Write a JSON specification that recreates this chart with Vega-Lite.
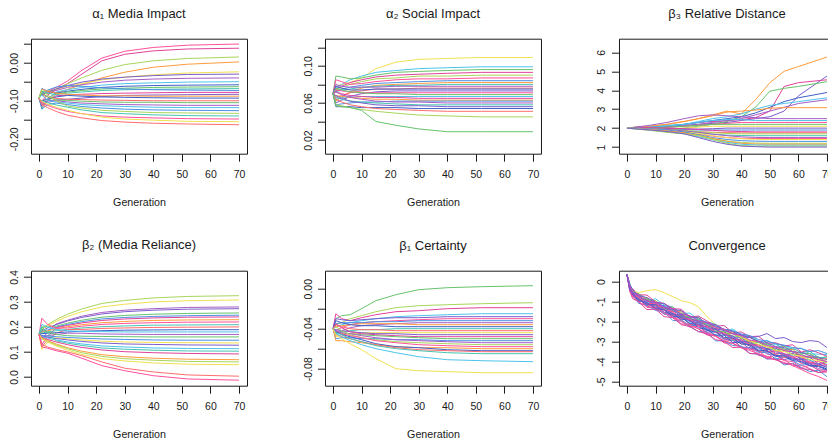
{
"$schema": "https://vega.github.io/schema/vega-lite/v6.json",
"padding": {"left": 8, "top": 7.7, "right": 0, "bottom": 0},
"config": {
"font": "Liberation Sans",
"view": {"stroke": "#1a1a1a", "strokeWidth": 1},
"axis": {"domain": false, "grid": false, "tickColor": "#1a1a1a", "tickSize": 7.5, "tickWidth": 1, "labelFont": "Liberation Sans", "labelFontSize": 10.5, "labelColor": "#1a1a1a", "titleFont": "Liberation Sans", "titleFontSize": 10.7, "titleFontWeight": "normal", "titleColor": "#1a1a1a", "labelOverlap": false, "labelFlush": false},
"axisX": {"labelPadding": 8.5, "titlePadding": 17.5},
"axisY": {"labelAngle": -90, "labelAlign": "center", "labelBaseline": "bottom", "labelPadding": 4.5},
"title": {"font": "Liberation Sans", "fontSize": 13, "fontWeight": "normal", "color": "#1a1a1a", "anchor": "middle", "frame": "group", "baseline": "alphabetic", "offset": 17.5}
},
"datasets": {
"a1": [
{"s":1,"g":0,"v":-0.093},{"s":1,"g":1,"v":-0.085},{"s":1,"g":3,"v":-0.075},{"s":1,"g":6,"v":-0.065},{"s":1,"g":10,"v":-0.048},{"s":1,"g":15,"v":-0.02},{"s":1,"g":22,"v":0.012},{"s":1,"g":30,"v":0.03},{"s":1,"g":40,"v":0.04},{"s":1,"g":52,"v":0.046},{"s":1,"g":70,"v":0.049},
{"s":2,"g":0,"v":-0.093},{"s":2,"g":1,"v":-0.1},{"s":2,"g":3,"v":-0.085},{"s":2,"g":6,"v":-0.07},{"s":2,"g":10,"v":-0.055},{"s":2,"g":15,"v":-0.03},{"s":2,"g":22,"v":0.005},{"s":2,"g":30,"v":0.022},{"s":2,"g":40,"v":0.031},{"s":2,"g":52,"v":0.036},{"s":2,"g":70,"v":0.038},
{"s":3,"g":0,"v":-0.093},{"s":3,"g":1,"v":-0.085},{"s":3,"g":3,"v":-0.08},{"s":3,"g":6,"v":-0.07},{"s":3,"g":10,"v":-0.055},{"s":3,"g":15,"v":-0.04},{"s":3,"g":22,"v":-0.02},{"s":3,"g":30,"v":-0.005},{"s":3,"g":40,"v":0.005},{"s":3,"g":52,"v":0.011},{"s":3,"g":70,"v":0.015},
{"s":4,"g":0,"v":-0.093},{"s":4,"g":1,"v":-0.1},{"s":4,"g":3,"v":-0.095},{"s":4,"g":6,"v":-0.08},{"s":4,"g":10,"v":-0.07},{"s":4,"g":15,"v":-0.058},{"s":4,"g":22,"v":-0.04},{"s":4,"g":30,"v":-0.025},{"s":4,"g":40,"v":-0.012},{"s":4,"g":52,"v":-0.004},{"s":4,"g":70,"v":0.002},
{"s":5,"g":0,"v":-0.093},{"s":5,"g":1,"v":-0.08},{"s":5,"g":3,"v":-0.075},{"s":5,"g":6,"v":-0.07},{"s":5,"g":10,"v":-0.062},{"s":5,"g":15,"v":-0.055},{"s":5,"g":22,"v":-0.045},{"s":5,"g":30,"v":-0.038},{"s":5,"g":40,"v":-0.032},{"s":5,"g":52,"v":-0.027},{"s":5,"g":70,"v":-0.024},
{"s":6,"g":0,"v":-0.093},{"s":6,"g":1,"v":-0.084},{"s":6,"g":3,"v":-0.077},{"s":6,"g":6,"v":-0.069},{"s":6,"g":10,"v":-0.06},{"s":6,"g":15,"v":-0.051},{"s":6,"g":22,"v":-0.043},{"s":6,"g":30,"v":-0.038},{"s":6,"g":40,"v":-0.034},{"s":6,"g":52,"v":-0.031},{"s":6,"g":70,"v":-0.03},
{"s":7,"g":0,"v":-0.093},{"s":7,"g":1,"v":-0.075},{"s":7,"g":3,"v":-0.08},{"s":7,"g":6,"v":-0.073},{"s":7,"g":10,"v":-0.065},{"s":7,"g":15,"v":-0.058},{"s":7,"g":22,"v":-0.051},{"s":7,"g":30,"v":-0.046},{"s":7,"g":40,"v":-0.043},{"s":7,"g":52,"v":-0.041},{"s":7,"g":70,"v":-0.04},
{"s":8,"g":0,"v":-0.093},{"s":8,"g":1,"v":-0.11},{"s":8,"g":3,"v":-0.095},{"s":8,"g":6,"v":-0.077},{"s":8,"g":10,"v":-0.071},{"s":8,"g":15,"v":-0.065},{"s":8,"g":22,"v":-0.059},{"s":8,"g":30,"v":-0.055},{"s":8,"g":40,"v":-0.053},{"s":8,"g":52,"v":-0.051},{"s":8,"g":70,"v":-0.05},
{"s":9,"g":0,"v":-0.093},{"s":9,"g":1,"v":-0.068},{"s":9,"g":3,"v":-0.075},{"s":9,"g":6,"v":-0.08},{"s":9,"g":10,"v":-0.075},{"s":9,"g":15,"v":-0.07},{"s":9,"g":22,"v":-0.065},{"s":9,"g":30,"v":-0.062},{"s":9,"g":40,"v":-0.06},{"s":9,"g":52,"v":-0.059},{"s":9,"g":70,"v":-0.058},
{"s":10,"g":0,"v":-0.093},{"s":10,"g":1,"v":-0.12},{"s":10,"g":3,"v":-0.1},{"s":10,"g":6,"v":-0.082},{"s":10,"g":10,"v":-0.077},{"s":10,"g":15,"v":-0.073},{"s":10,"g":22,"v":-0.069},{"s":10,"g":30,"v":-0.067},{"s":10,"g":40,"v":-0.065},{"s":10,"g":52,"v":-0.064},{"s":10,"g":70,"v":-0.063},
{"s":11,"g":0,"v":-0.093},{"s":11,"g":1,"v":-0.075},{"s":11,"g":3,"v":-0.08},{"s":11,"g":6,"v":-0.084},{"s":11,"g":10,"v":-0.08},{"s":11,"g":15,"v":-0.077},{"s":11,"g":22,"v":-0.073},{"s":11,"g":30,"v":-0.071},{"s":11,"g":40,"v":-0.07},{"s":11,"g":52,"v":-0.069},{"s":11,"g":70,"v":-0.068},
{"s":12,"g":0,"v":-0.093},{"s":12,"g":1,"v":-0.08},{"s":12,"g":3,"v":-0.072},{"s":12,"g":6,"v":-0.064},{"s":12,"g":10,"v":-0.06},{"s":12,"g":15,"v":-0.062},{"s":12,"g":22,"v":-0.066},{"s":12,"g":30,"v":-0.069},{"s":12,"g":40,"v":-0.071},{"s":12,"g":52,"v":-0.072},{"s":12,"g":70,"v":-0.073},
{"s":13,"g":0,"v":-0.093},{"s":13,"g":1,"v":-0.115},{"s":13,"g":3,"v":-0.1},{"s":13,"g":6,"v":-0.087},{"s":13,"g":10,"v":-0.085},{"s":13,"g":15,"v":-0.083},{"s":13,"g":22,"v":-0.081},{"s":13,"g":30,"v":-0.08},{"s":13,"g":40,"v":-0.079},{"s":13,"g":52,"v":-0.078},{"s":13,"g":70,"v":-0.078},
{"s":14,"g":0,"v":-0.093},{"s":14,"g":1,"v":-0.105},{"s":14,"g":3,"v":-0.1},{"s":14,"g":6,"v":-0.098},{"s":14,"g":10,"v":-0.096},{"s":14,"g":15,"v":-0.093},{"s":14,"g":22,"v":-0.089},{"s":14,"g":30,"v":-0.086},{"s":14,"g":40,"v":-0.085},{"s":14,"g":52,"v":-0.084},{"s":14,"g":70,"v":-0.083},
{"s":15,"g":0,"v":-0.093},{"s":15,"g":1,"v":-0.07},{"s":15,"g":3,"v":-0.075},{"s":15,"g":6,"v":-0.08},{"s":15,"g":10,"v":-0.083},{"s":15,"g":15,"v":-0.085},{"s":15,"g":22,"v":-0.087},{"s":15,"g":30,"v":-0.087},{"s":15,"g":40,"v":-0.088},{"s":15,"g":52,"v":-0.088},{"s":15,"g":70,"v":-0.088},
{"s":16,"g":0,"v":-0.093},{"s":16,"g":1,"v":-0.1},{"s":16,"g":3,"v":-0.096},{"s":16,"g":6,"v":-0.09},{"s":16,"g":10,"v":-0.086},{"s":16,"g":15,"v":-0.088},{"s":16,"g":22,"v":-0.09},{"s":16,"g":30,"v":-0.091},{"s":16,"g":40,"v":-0.092},{"s":16,"g":52,"v":-0.093},{"s":16,"g":70,"v":-0.093},
{"s":17,"g":0,"v":-0.093},{"s":17,"g":1,"v":-0.085},{"s":17,"g":3,"v":-0.09},{"s":17,"g":6,"v":-0.094},{"s":17,"g":10,"v":-0.096},{"s":17,"g":15,"v":-0.097},{"s":17,"g":22,"v":-0.098},{"s":17,"g":30,"v":-0.099},{"s":17,"g":40,"v":-0.1},{"s":17,"g":52,"v":-0.1},{"s":17,"g":70,"v":-0.1},
{"s":18,"g":0,"v":-0.093},{"s":18,"g":1,"v":-0.08},{"s":18,"g":3,"v":-0.09},{"s":18,"g":6,"v":-0.098},{"s":18,"g":10,"v":-0.099},{"s":18,"g":15,"v":-0.101},{"s":18,"g":22,"v":-0.103},{"s":18,"g":30,"v":-0.104},{"s":18,"g":40,"v":-0.104},{"s":18,"g":52,"v":-0.105},{"s":18,"g":70,"v":-0.105},
{"s":19,"g":0,"v":-0.093},{"s":19,"g":1,"v":-0.11},{"s":19,"g":3,"v":-0.104},{"s":19,"g":6,"v":-0.1},{"s":19,"g":10,"v":-0.103},{"s":19,"g":15,"v":-0.106},{"s":19,"g":22,"v":-0.108},{"s":19,"g":30,"v":-0.11},{"s":19,"g":40,"v":-0.111},{"s":19,"g":52,"v":-0.112},{"s":19,"g":70,"v":-0.112},
{"s":20,"g":0,"v":-0.093},{"s":20,"g":1,"v":-0.085},{"s":20,"g":3,"v":-0.099},{"s":20,"g":6,"v":-0.103},{"s":20,"g":10,"v":-0.106},{"s":20,"g":15,"v":-0.11},{"s":20,"g":22,"v":-0.113},{"s":20,"g":30,"v":-0.115},{"s":20,"g":40,"v":-0.117},{"s":20,"g":52,"v":-0.118},{"s":20,"g":70,"v":-0.118},
{"s":21,"g":0,"v":-0.093},{"s":21,"g":1,"v":-0.122},{"s":21,"g":3,"v":-0.11},{"s":21,"g":6,"v":-0.106},{"s":21,"g":10,"v":-0.11},{"s":21,"g":15,"v":-0.115},{"s":21,"g":22,"v":-0.119},{"s":21,"g":30,"v":-0.122},{"s":21,"g":40,"v":-0.124},{"s":21,"g":52,"v":-0.125},{"s":21,"g":70,"v":-0.126},
{"s":22,"g":0,"v":-0.093},{"s":22,"g":1,"v":-0.07},{"s":22,"g":3,"v":-0.085},{"s":22,"g":6,"v":-0.1},{"s":22,"g":10,"v":-0.114},{"s":22,"g":15,"v":-0.119},{"s":22,"g":22,"v":-0.125},{"s":22,"g":30,"v":-0.128},{"s":22,"g":40,"v":-0.131},{"s":22,"g":52,"v":-0.132},{"s":22,"g":70,"v":-0.133},
{"s":23,"g":0,"v":-0.093},{"s":23,"g":1,"v":-0.1},{"s":23,"g":3,"v":-0.105},{"s":23,"g":6,"v":-0.111},{"s":23,"g":10,"v":-0.117},{"s":23,"g":15,"v":-0.124},{"s":23,"g":22,"v":-0.131},{"s":23,"g":30,"v":-0.134},{"s":23,"g":40,"v":-0.137},{"s":23,"g":52,"v":-0.139},{"s":23,"g":70,"v":-0.14},
{"s":24,"g":0,"v":-0.093},{"s":24,"g":1,"v":-0.105},{"s":24,"g":3,"v":-0.112},{"s":24,"g":6,"v":-0.12},{"s":24,"g":10,"v":-0.128},{"s":24,"g":15,"v":-0.134},{"s":24,"g":22,"v":-0.14},{"s":24,"g":30,"v":-0.143},{"s":24,"g":40,"v":-0.145},{"s":24,"g":52,"v":-0.147},{"s":24,"g":70,"v":-0.148},
{"s":25,"g":0,"v":-0.093},{"s":25,"g":1,"v":-0.102},{"s":25,"g":3,"v":-0.109},{"s":25,"g":6,"v":-0.117},{"s":25,"g":10,"v":-0.125},{"s":25,"g":15,"v":-0.134},{"s":25,"g":22,"v":-0.143},{"s":25,"g":30,"v":-0.148},{"s":25,"g":40,"v":-0.151},{"s":25,"g":52,"v":-0.154},{"s":25,"g":70,"v":-0.155},
{"s":26,"g":0,"v":-0.093},{"s":26,"g":1,"v":-0.11},{"s":26,"g":3,"v":-0.118},{"s":26,"g":6,"v":-0.128},{"s":26,"g":10,"v":-0.138},{"s":26,"g":15,"v":-0.145},{"s":26,"g":22,"v":-0.152},{"s":26,"g":30,"v":-0.156},{"s":26,"g":40,"v":-0.159},{"s":26,"g":52,"v":-0.161},{"s":26,"g":70,"v":-0.163}
],
"a2": [
{"s":1,"g":0,"v":0.07},{"s":1,"g":1,"v":0.078},{"s":1,"g":3,"v":0.08},{"s":1,"g":6,"v":0.082},{"s":1,"g":10,"v":0.087},{"s":1,"g":15,"v":0.097},{"s":1,"g":22,"v":0.104},{"s":1,"g":30,"v":0.107},{"s":1,"g":40,"v":0.108},{"s":1,"g":52,"v":0.109},{"s":1,"g":70,"v":0.109},
{"s":2,"g":0,"v":0.07},{"s":2,"g":1,"v":0.076},{"s":2,"g":3,"v":0.08},{"s":2,"g":6,"v":0.085},{"s":2,"g":10,"v":0.089},{"s":2,"g":15,"v":0.093},{"s":2,"g":22,"v":0.095},{"s":2,"g":30,"v":0.097},{"s":2,"g":40,"v":0.098},{"s":2,"g":52,"v":0.099},{"s":2,"g":70,"v":0.099},
{"s":3,"g":0,"v":0.07},{"s":3,"g":1,"v":0.089},{"s":3,"g":3,"v":0.088},{"s":3,"g":6,"v":0.086},{"s":3,"g":10,"v":0.087},{"s":3,"g":15,"v":0.09},{"s":3,"g":22,"v":0.093},{"s":3,"g":30,"v":0.094},{"s":3,"g":40,"v":0.095},{"s":3,"g":52,"v":0.096},{"s":3,"g":70,"v":0.096},
{"s":4,"g":0,"v":0.07},{"s":4,"g":1,"v":0.075},{"s":4,"g":3,"v":0.078},{"s":4,"g":6,"v":0.082},{"s":4,"g":10,"v":0.085},{"s":4,"g":15,"v":0.088},{"s":4,"g":22,"v":0.09},{"s":4,"g":30,"v":0.091},{"s":4,"g":40,"v":0.092},{"s":4,"g":52,"v":0.093},{"s":4,"g":70,"v":0.093},
{"s":5,"g":0,"v":0.07},{"s":5,"g":1,"v":0.074},{"s":5,"g":3,"v":0.077},{"s":5,"g":6,"v":0.08},{"s":5,"g":10,"v":0.083},{"s":5,"g":15,"v":0.086},{"s":5,"g":22,"v":0.087},{"s":5,"g":30,"v":0.089},{"s":5,"g":40,"v":0.089},{"s":5,"g":52,"v":0.09},{"s":5,"g":70,"v":0.09},
{"s":6,"g":0,"v":0.07},{"s":6,"g":1,"v":0.085},{"s":6,"g":3,"v":0.083},{"s":6,"g":6,"v":0.08},{"s":6,"g":10,"v":0.081},{"s":6,"g":15,"v":0.083},{"s":6,"g":22,"v":0.085},{"s":6,"g":30,"v":0.086},{"s":6,"g":40,"v":0.086},{"s":6,"g":52,"v":0.087},{"s":6,"g":70,"v":0.087},
{"s":7,"g":0,"v":0.07},{"s":7,"g":1,"v":0.073},{"s":7,"g":3,"v":0.075},{"s":7,"g":6,"v":0.077},{"s":7,"g":10,"v":0.079},{"s":7,"g":15,"v":0.081},{"s":7,"g":22,"v":0.082},{"s":7,"g":30,"v":0.083},{"s":7,"g":40,"v":0.084},{"s":7,"g":52,"v":0.084},{"s":7,"g":70,"v":0.084},
{"s":8,"g":0,"v":0.07},{"s":8,"g":1,"v":0.062},{"s":8,"g":3,"v":0.066},{"s":8,"g":6,"v":0.072},{"s":8,"g":10,"v":0.076},{"s":8,"g":15,"v":0.079},{"s":8,"g":22,"v":0.08},{"s":8,"g":30,"v":0.081},{"s":8,"g":40,"v":0.082},{"s":8,"g":52,"v":0.082},{"s":8,"g":70,"v":0.082},
{"s":9,"g":0,"v":0.07},{"s":9,"g":1,"v":0.072},{"s":9,"g":3,"v":0.074},{"s":9,"g":6,"v":0.075},{"s":9,"g":10,"v":0.077},{"s":9,"g":15,"v":0.078},{"s":9,"g":22,"v":0.079},{"s":9,"g":30,"v":0.079},{"s":9,"g":40,"v":0.08},{"s":9,"g":52,"v":0.08},{"s":9,"g":70,"v":0.08},
{"s":10,"g":0,"v":0.07},{"s":10,"g":1,"v":0.08},{"s":10,"g":3,"v":0.078},{"s":10,"g":6,"v":0.077},{"s":10,"g":10,"v":0.077},{"s":10,"g":15,"v":0.077},{"s":10,"g":22,"v":0.078},{"s":10,"g":30,"v":0.078},{"s":10,"g":40,"v":0.078},{"s":10,"g":52,"v":0.078},{"s":10,"g":70,"v":0.078},
{"s":11,"g":0,"v":0.07},{"s":11,"g":1,"v":0.066},{"s":11,"g":3,"v":0.068},{"s":11,"g":6,"v":0.071},{"s":11,"g":10,"v":0.073},{"s":11,"g":15,"v":0.075},{"s":11,"g":22,"v":0.075},{"s":11,"g":30,"v":0.076},{"s":11,"g":40,"v":0.076},{"s":11,"g":52,"v":0.076},{"s":11,"g":70,"v":0.076},
{"s":12,"g":0,"v":0.07},{"s":12,"g":1,"v":0.078},{"s":12,"g":3,"v":0.076},{"s":12,"g":6,"v":0.074},{"s":12,"g":10,"v":0.074},{"s":12,"g":15,"v":0.075},{"s":12,"g":22,"v":0.075},{"s":12,"g":30,"v":0.075},{"s":12,"g":40,"v":0.075},{"s":12,"g":52,"v":0.075},{"s":12,"g":70,"v":0.075},
{"s":13,"g":0,"v":0.07},{"s":13,"g":1,"v":0.06},{"s":13,"g":3,"v":0.063},{"s":13,"g":6,"v":0.067},{"s":13,"g":10,"v":0.07},{"s":13,"g":15,"v":0.072},{"s":13,"g":22,"v":0.073},{"s":13,"g":30,"v":0.073},{"s":13,"g":40,"v":0.073},{"s":13,"g":52,"v":0.073},{"s":13,"g":70,"v":0.073},
{"s":14,"g":0,"v":0.07},{"s":14,"g":1,"v":0.074},{"s":14,"g":3,"v":0.073},{"s":14,"g":6,"v":0.072},{"s":14,"g":10,"v":0.071},{"s":14,"g":15,"v":0.071},{"s":14,"g":22,"v":0.071},{"s":14,"g":30,"v":0.071},{"s":14,"g":40,"v":0.071},{"s":14,"g":52,"v":0.071},{"s":14,"g":70,"v":0.071},
{"s":15,"g":0,"v":0.07},{"s":15,"g":1,"v":0.076},{"s":15,"g":3,"v":0.074},{"s":15,"g":6,"v":0.072},{"s":15,"g":10,"v":0.071},{"s":15,"g":15,"v":0.07},{"s":15,"g":22,"v":0.07},{"s":15,"g":30,"v":0.069},{"s":15,"g":40,"v":0.069},{"s":15,"g":52,"v":0.069},{"s":15,"g":70,"v":0.069},
{"s":16,"g":0,"v":0.07},{"s":16,"g":1,"v":0.064},{"s":16,"g":3,"v":0.066},{"s":16,"g":6,"v":0.066},{"s":16,"g":10,"v":0.067},{"s":16,"g":15,"v":0.067},{"s":16,"g":22,"v":0.067},{"s":16,"g":30,"v":0.067},{"s":16,"g":40,"v":0.067},{"s":16,"g":52,"v":0.067},{"s":16,"g":70,"v":0.067},
{"s":17,"g":0,"v":0.07},{"s":17,"g":1,"v":0.072},{"s":17,"g":3,"v":0.07},{"s":17,"g":6,"v":0.068},{"s":17,"g":10,"v":0.067},{"s":17,"g":15,"v":0.066},{"s":17,"g":22,"v":0.066},{"s":17,"g":30,"v":0.065},{"s":17,"g":40,"v":0.065},{"s":17,"g":52,"v":0.065},{"s":17,"g":70,"v":0.065},
{"s":18,"g":0,"v":0.07},{"s":18,"g":1,"v":0.068},{"s":18,"g":3,"v":0.067},{"s":18,"g":6,"v":0.066},{"s":18,"g":10,"v":0.065},{"s":18,"g":15,"v":0.064},{"s":18,"g":22,"v":0.064},{"s":18,"g":30,"v":0.063},{"s":18,"g":40,"v":0.063},{"s":18,"g":52,"v":0.063},{"s":18,"g":70,"v":0.063},
{"s":19,"g":0,"v":0.07},{"s":19,"g":1,"v":0.058},{"s":19,"g":3,"v":0.059},{"s":19,"g":6,"v":0.06},{"s":19,"g":10,"v":0.061},{"s":19,"g":15,"v":0.061},{"s":19,"g":22,"v":0.062},{"s":19,"g":30,"v":0.062},{"s":19,"g":40,"v":0.062},{"s":19,"g":52,"v":0.062},{"s":19,"g":70,"v":0.062},
{"s":20,"g":0,"v":0.07},{"s":20,"g":1,"v":0.072},{"s":20,"g":3,"v":0.069},{"s":20,"g":6,"v":0.066},{"s":20,"g":10,"v":0.064},{"s":20,"g":15,"v":0.062},{"s":20,"g":22,"v":0.061},{"s":20,"g":30,"v":0.061},{"s":20,"g":40,"v":0.06},{"s":20,"g":52,"v":0.06},{"s":20,"g":70,"v":0.06},
{"s":21,"g":0,"v":0.07},{"s":21,"g":1,"v":0.066},{"s":21,"g":3,"v":0.064},{"s":21,"g":6,"v":0.062},{"s":21,"g":10,"v":0.061},{"s":21,"g":15,"v":0.06},{"s":21,"g":22,"v":0.059},{"s":21,"g":30,"v":0.058},{"s":21,"g":40,"v":0.058},{"s":21,"g":52,"v":0.058},{"s":21,"g":70,"v":0.058},
{"s":22,"g":0,"v":0.07},{"s":22,"g":1,"v":0.068},{"s":22,"g":3,"v":0.065},{"s":22,"g":6,"v":0.062},{"s":22,"g":10,"v":0.06},{"s":22,"g":15,"v":0.058},{"s":22,"g":22,"v":0.057},{"s":22,"g":30,"v":0.057},{"s":22,"g":40,"v":0.056},{"s":22,"g":52,"v":0.056},{"s":22,"g":70,"v":0.056},
{"s":23,"g":0,"v":0.07},{"s":23,"g":1,"v":0.056},{"s":23,"g":3,"v":0.056},{"s":23,"g":6,"v":0.056},{"s":23,"g":10,"v":0.055},{"s":23,"g":15,"v":0.055},{"s":23,"g":22,"v":0.055},{"s":23,"g":30,"v":0.054},{"s":23,"g":40,"v":0.054},{"s":23,"g":52,"v":0.054},{"s":23,"g":70,"v":0.054},
{"s":24,"g":0,"v":0.07},{"s":24,"g":1,"v":0.064},{"s":24,"g":3,"v":0.061},{"s":24,"g":6,"v":0.058},{"s":24,"g":10,"v":0.056},{"s":24,"g":15,"v":0.054},{"s":24,"g":22,"v":0.053},{"s":24,"g":30,"v":0.052},{"s":24,"g":40,"v":0.051},{"s":24,"g":52,"v":0.051},{"s":24,"g":70,"v":0.051},
{"s":25,"g":0,"v":0.07},{"s":25,"g":1,"v":0.058},{"s":25,"g":3,"v":0.057},{"s":25,"g":6,"v":0.055},{"s":25,"g":10,"v":0.053},{"s":25,"g":15,"v":0.051},{"s":25,"g":22,"v":0.049},{"s":25,"g":30,"v":0.047},{"s":25,"g":40,"v":0.046},{"s":25,"g":52,"v":0.045},{"s":25,"g":70,"v":0.045},
{"s":26,"g":0,"v":0.07},{"s":26,"g":1,"v":0.057},{"s":26,"g":3,"v":0.056},{"s":26,"g":6,"v":0.055},{"s":26,"g":10,"v":0.052},{"s":26,"g":15,"v":0.04},{"s":26,"g":22,"v":0.036},{"s":26,"g":30,"v":0.032},{"s":26,"g":40,"v":0.029},{"s":26,"g":52,"v":0.029},{"s":26,"g":70,"v":0.029}
],
"b3": [
{"s":1,"g":0,"v":2.0},{"s":1,"g":3,"v":2.05},{"s":1,"g":8,"v":2.1},{"s":1,"g":14,"v":2.2},{"s":1,"g":20,"v":2.35},{"s":1,"g":25,"v":2.5},{"s":1,"g":30,"v":2.7},{"s":1,"g":35,"v":2.9},{"s":1,"g":40,"v":2.75},{"s":1,"g":45,"v":3.5},{"s":1,"g":50,"v":4.4},{"s":1,"g":55,"v":5.0},{"s":1,"g":60,"v":5.25},{"s":1,"g":70,"v":5.75},
{"s":2,"g":0,"v":2.0},{"s":2,"g":3,"v":2.0},{"s":2,"g":8,"v":2.05},{"s":2,"g":14,"v":2.1},{"s":2,"g":20,"v":2.15},{"s":2,"g":25,"v":2.2},{"s":2,"g":30,"v":2.25},{"s":2,"g":35,"v":2.3},{"s":2,"g":40,"v":2.4},{"s":2,"g":45,"v":2.5},{"s":2,"g":50,"v":2.6},{"s":2,"g":55,"v":2.9},{"s":2,"g":60,"v":3.7},{"s":2,"g":70,"v":4.75},
{"s":3,"g":0,"v":2.0},{"s":3,"g":3,"v":2.02},{"s":3,"g":8,"v":2.05},{"s":3,"g":14,"v":2.1},{"s":3,"g":20,"v":2.2},{"s":3,"g":25,"v":2.3},{"s":3,"g":30,"v":2.35},{"s":3,"g":35,"v":2.4},{"s":3,"g":40,"v":2.45},{"s":3,"g":45,"v":2.55},{"s":3,"g":50,"v":2.9},{"s":3,"g":55,"v":4.2},{"s":3,"g":60,"v":4.4},{"s":3,"g":70,"v":4.55},
{"s":4,"g":0,"v":2.0},{"s":4,"g":3,"v":1.98},{"s":4,"g":8,"v":1.95},{"s":4,"g":14,"v":1.95},{"s":4,"g":20,"v":2.0},{"s":4,"g":25,"v":2.1},{"s":4,"g":30,"v":2.2},{"s":4,"g":35,"v":2.35},{"s":4,"g":40,"v":2.6},{"s":4,"g":45,"v":3.1},{"s":4,"g":50,"v":3.95},{"s":4,"g":55,"v":4.1},{"s":4,"g":60,"v":4.2},{"s":4,"g":70,"v":4.45},
{"s":5,"g":0,"v":2.0},{"s":5,"g":3,"v":2.0},{"s":5,"g":8,"v":2.05},{"s":5,"g":14,"v":2.1},{"s":5,"g":20,"v":2.2},{"s":5,"g":25,"v":2.3},{"s":5,"g":30,"v":2.4},{"s":5,"g":35,"v":2.5},{"s":5,"g":40,"v":2.6},{"s":5,"g":45,"v":2.8},{"s":5,"g":50,"v":3.1},{"s":5,"g":55,"v":3.4},{"s":5,"g":60,"v":3.6},{"s":5,"g":70,"v":3.88},
{"s":6,"g":0,"v":2.0},{"s":6,"g":3,"v":2.05},{"s":6,"g":8,"v":2.1},{"s":6,"g":14,"v":2.15},{"s":6,"g":20,"v":2.2},{"s":6,"g":25,"v":2.35},{"s":6,"g":30,"v":2.5},{"s":6,"g":35,"v":2.6},{"s":6,"g":40,"v":2.75},{"s":6,"g":45,"v":3.0},{"s":6,"g":50,"v":3.2},{"s":6,"g":55,"v":3.3},{"s":6,"g":60,"v":3.4},{"s":6,"g":70,"v":3.6},
{"s":7,"g":0,"v":2.0},{"s":7,"g":3,"v":2.0},{"s":7,"g":8,"v":2.0},{"s":7,"g":14,"v":2.05},{"s":7,"g":20,"v":2.1},{"s":7,"g":25,"v":2.2},{"s":7,"g":30,"v":2.3},{"s":7,"g":35,"v":2.4},{"s":7,"g":40,"v":2.5},{"s":7,"g":45,"v":2.7},{"s":7,"g":50,"v":2.9},{"s":7,"g":55,"v":3.1},{"s":7,"g":60,"v":3.3},{"s":7,"g":70,"v":3.5},
{"s":8,"g":0,"v":2.0},{"s":8,"g":3,"v":2.05},{"s":8,"g":8,"v":2.1},{"s":8,"g":14,"v":2.2},{"s":8,"g":20,"v":2.35},{"s":8,"g":25,"v":2.5},{"s":8,"g":30,"v":2.65},{"s":8,"g":35,"v":2.85},{"s":8,"g":40,"v":2.9},{"s":8,"g":45,"v":2.95},{"s":8,"g":50,"v":3.05},{"s":8,"g":55,"v":3.08},{"s":8,"g":60,"v":3.08},{"s":8,"g":70,"v":3.08},
{"s":9,"g":0,"v":2.0},{"s":9,"g":3,"v":2.05},{"s":9,"g":8,"v":2.15},{"s":9,"g":14,"v":2.3},{"s":9,"g":20,"v":2.5},{"s":9,"g":25,"v":2.65},{"s":9,"g":30,"v":2.7},{"s":9,"g":35,"v":2.65},{"s":9,"g":40,"v":2.6},{"s":9,"g":45,"v":2.55},{"s":9,"g":50,"v":2.5},{"s":9,"g":55,"v":2.5},{"s":9,"g":60,"v":2.5},{"s":9,"g":70,"v":2.5},
{"s":10,"g":0,"v":2.0},{"s":10,"g":3,"v":2.0},{"s":10,"g":8,"v":2.05},{"s":10,"g":14,"v":2.1},{"s":10,"g":20,"v":2.2},{"s":10,"g":25,"v":2.3},{"s":10,"g":30,"v":2.4},{"s":10,"g":35,"v":2.45},{"s":10,"g":40,"v":2.45},{"s":10,"g":45,"v":2.4},{"s":10,"g":50,"v":2.4},{"s":10,"g":55,"v":2.4},{"s":10,"g":60,"v":2.4},{"s":10,"g":70,"v":2.4},
{"s":11,"g":0,"v":2.0},{"s":11,"g":3,"v":2.0},{"s":11,"g":8,"v":2.0},{"s":11,"g":14,"v":2.05},{"s":11,"g":20,"v":2.1},{"s":11,"g":25,"v":2.15},{"s":11,"g":30,"v":2.2},{"s":11,"g":35,"v":2.25},{"s":11,"g":40,"v":2.3},{"s":11,"g":45,"v":2.3},{"s":11,"g":50,"v":2.3},{"s":11,"g":55,"v":2.3},{"s":11,"g":60,"v":2.3},{"s":11,"g":70,"v":2.3},
{"s":12,"g":0,"v":2.0},{"s":12,"g":3,"v":1.98},{"s":12,"g":8,"v":2.0},{"s":12,"g":14,"v":2.05},{"s":12,"g":20,"v":2.1},{"s":12,"g":25,"v":2.15},{"s":12,"g":30,"v":2.2},{"s":12,"g":35,"v":2.2},{"s":12,"g":40,"v":2.2},{"s":12,"g":45,"v":2.2},{"s":12,"g":50,"v":2.2},{"s":12,"g":55,"v":2.2},{"s":12,"g":60,"v":2.2},{"s":12,"g":70,"v":2.2},
{"s":13,"g":0,"v":2.0},{"s":13,"g":3,"v":2.0},{"s":13,"g":8,"v":1.98},{"s":13,"g":14,"v":1.97},{"s":13,"g":20,"v":2.0},{"s":13,"g":25,"v":2.05},{"s":13,"g":30,"v":2.1},{"s":13,"g":35,"v":2.1},{"s":13,"g":40,"v":2.1},{"s":13,"g":45,"v":2.1},{"s":13,"g":50,"v":2.1},{"s":13,"g":55,"v":2.1},{"s":13,"g":60,"v":2.1},{"s":13,"g":70,"v":2.1},
{"s":14,"g":0,"v":2.0},{"s":14,"g":3,"v":2.02},{"s":14,"g":8,"v":2.0},{"s":14,"g":14,"v":1.98},{"s":14,"g":20,"v":1.95},{"s":14,"g":25,"v":1.95},{"s":14,"g":30,"v":1.97},{"s":14,"g":35,"v":2.0},{"s":14,"g":40,"v":2.0},{"s":14,"g":45,"v":2.0},{"s":14,"g":50,"v":2.0},{"s":14,"g":55,"v":2.0},{"s":14,"g":60,"v":2.0},{"s":14,"g":70,"v":2.0},
{"s":15,"g":0,"v":2.0},{"s":15,"g":3,"v":2.0},{"s":15,"g":8,"v":1.98},{"s":15,"g":14,"v":1.95},{"s":15,"g":20,"v":1.92},{"s":15,"g":25,"v":1.9},{"s":15,"g":30,"v":1.9},{"s":15,"g":35,"v":1.9},{"s":15,"g":40,"v":1.9},{"s":15,"g":45,"v":1.9},{"s":15,"g":50,"v":1.9},{"s":15,"g":55,"v":1.9},{"s":15,"g":60,"v":1.9},{"s":15,"g":70,"v":1.9},
{"s":16,"g":0,"v":2.0},{"s":16,"g":3,"v":2.03},{"s":16,"g":8,"v":2.02},{"s":16,"g":14,"v":2.0},{"s":16,"g":20,"v":1.97},{"s":16,"g":25,"v":1.93},{"s":16,"g":30,"v":1.88},{"s":16,"g":35,"v":1.84},{"s":16,"g":40,"v":1.82},{"s":16,"g":45,"v":1.8},{"s":16,"g":50,"v":1.8},{"s":16,"g":55,"v":1.8},{"s":16,"g":60,"v":1.8},{"s":16,"g":70,"v":1.8},
{"s":17,"g":0,"v":2.0},{"s":17,"g":3,"v":1.98},{"s":17,"g":8,"v":1.95},{"s":17,"g":14,"v":1.9},{"s":17,"g":20,"v":1.85},{"s":17,"g":25,"v":1.8},{"s":17,"g":30,"v":1.78},{"s":17,"g":35,"v":1.76},{"s":17,"g":40,"v":1.75},{"s":17,"g":45,"v":1.75},{"s":17,"g":50,"v":1.75},{"s":17,"g":55,"v":1.75},{"s":17,"g":60,"v":1.75},{"s":17,"g":70,"v":1.75},
{"s":18,"g":0,"v":2.0},{"s":18,"g":3,"v":2.0},{"s":18,"g":8,"v":1.97},{"s":18,"g":14,"v":1.93},{"s":18,"g":20,"v":1.88},{"s":18,"g":25,"v":1.82},{"s":18,"g":30,"v":1.76},{"s":18,"g":35,"v":1.72},{"s":18,"g":40,"v":1.7},{"s":18,"g":45,"v":1.7},{"s":18,"g":50,"v":1.7},{"s":18,"g":55,"v":1.7},{"s":18,"g":60,"v":1.7},{"s":18,"g":70,"v":1.7},
{"s":19,"g":0,"v":2.0},{"s":19,"g":3,"v":1.98},{"s":19,"g":8,"v":1.95},{"s":19,"g":14,"v":1.9},{"s":19,"g":20,"v":1.83},{"s":19,"g":25,"v":1.75},{"s":19,"g":30,"v":1.68},{"s":19,"g":35,"v":1.63},{"s":19,"g":40,"v":1.61},{"s":19,"g":45,"v":1.6},{"s":19,"g":50,"v":1.6},{"s":19,"g":55,"v":1.6},{"s":19,"g":60,"v":1.6},{"s":19,"g":70,"v":1.6},
{"s":20,"g":0,"v":2.0},{"s":20,"g":3,"v":2.0},{"s":20,"g":8,"v":1.97},{"s":20,"g":14,"v":1.92},{"s":20,"g":20,"v":1.85},{"s":20,"g":25,"v":1.78},{"s":20,"g":30,"v":1.68},{"s":20,"g":35,"v":1.6},{"s":20,"g":40,"v":1.54},{"s":20,"g":45,"v":1.51},{"s":20,"g":50,"v":1.5},{"s":20,"g":55,"v":1.5},{"s":20,"g":60,"v":1.5},{"s":20,"g":70,"v":1.5},
{"s":21,"g":0,"v":2.0},{"s":21,"g":3,"v":1.97},{"s":21,"g":8,"v":1.92},{"s":21,"g":14,"v":1.86},{"s":21,"g":20,"v":1.78},{"s":21,"g":25,"v":1.68},{"s":21,"g":30,"v":1.58},{"s":21,"g":35,"v":1.5},{"s":21,"g":40,"v":1.46},{"s":21,"g":45,"v":1.45},{"s":21,"g":50,"v":1.45},{"s":21,"g":55,"v":1.45},{"s":21,"g":60,"v":1.45},{"s":21,"g":70,"v":1.45},
{"s":22,"g":0,"v":2.0},{"s":22,"g":3,"v":1.98},{"s":22,"g":8,"v":1.95},{"s":22,"g":14,"v":1.88},{"s":22,"g":20,"v":1.8},{"s":22,"g":25,"v":1.72},{"s":22,"g":30,"v":1.6},{"s":22,"g":35,"v":1.5},{"s":22,"g":40,"v":1.44},{"s":22,"g":45,"v":1.41},{"s":22,"g":50,"v":1.4},{"s":22,"g":55,"v":1.4},{"s":22,"g":60,"v":1.4},{"s":22,"g":70,"v":1.4},
{"s":23,"g":0,"v":2.0},{"s":23,"g":3,"v":2.0},{"s":23,"g":8,"v":1.96},{"s":23,"g":14,"v":1.9},{"s":23,"g":20,"v":1.8},{"s":23,"g":25,"v":1.65},{"s":23,"g":30,"v":1.5},{"s":23,"g":35,"v":1.4},{"s":23,"g":40,"v":1.34},{"s":23,"g":45,"v":1.31},{"s":23,"g":50,"v":1.3},{"s":23,"g":55,"v":1.3},{"s":23,"g":60,"v":1.3},{"s":23,"g":70,"v":1.3},
{"s":24,"g":0,"v":2.0},{"s":24,"g":3,"v":1.96},{"s":24,"g":8,"v":1.9},{"s":24,"g":14,"v":1.8},{"s":24,"g":20,"v":1.72},{"s":24,"g":25,"v":1.62},{"s":24,"g":30,"v":1.45},{"s":24,"g":35,"v":1.32},{"s":24,"g":40,"v":1.24},{"s":24,"g":45,"v":1.21},{"s":24,"g":50,"v":1.2},{"s":24,"g":55,"v":1.2},{"s":24,"g":60,"v":1.2},{"s":24,"g":70,"v":1.2},
{"s":25,"g":0,"v":2.0},{"s":25,"g":3,"v":1.98},{"s":25,"g":8,"v":1.93},{"s":25,"g":14,"v":1.85},{"s":25,"g":20,"v":1.75},{"s":25,"g":25,"v":1.6},{"s":25,"g":30,"v":1.45},{"s":25,"g":35,"v":1.3},{"s":25,"g":40,"v":1.2},{"s":25,"g":45,"v":1.16},{"s":25,"g":50,"v":1.15},{"s":25,"g":55,"v":1.15},{"s":25,"g":60,"v":1.15},{"s":25,"g":70,"v":1.15},
{"s":26,"g":0,"v":2.0},{"s":26,"g":3,"v":1.97},{"s":26,"g":8,"v":1.9},{"s":26,"g":14,"v":1.8},{"s":26,"g":20,"v":1.7},{"s":26,"g":25,"v":1.55},{"s":26,"g":30,"v":1.38},{"s":26,"g":35,"v":1.25},{"s":26,"g":40,"v":1.15},{"s":26,"g":45,"v":1.11},{"s":26,"g":50,"v":1.1},{"s":26,"g":55,"v":1.1},{"s":26,"g":60,"v":1.1},{"s":26,"g":70,"v":1.1},
{"s":27,"g":0,"v":2.0},{"s":27,"g":3,"v":1.95},{"s":27,"g":8,"v":1.88},{"s":27,"g":14,"v":1.78},{"s":27,"g":20,"v":1.7},{"s":27,"g":25,"v":1.6},{"s":27,"g":30,"v":1.4},{"s":27,"g":35,"v":1.2},{"s":27,"g":40,"v":1.08},{"s":27,"g":45,"v":1.05},{"s":27,"g":50,"v":1.05},{"s":27,"g":55,"v":1.05},{"s":27,"g":60,"v":1.05},{"s":27,"g":70,"v":1.05},
{"s":28,"g":0,"v":2.0},{"s":28,"g":3,"v":1.96},{"s":28,"g":8,"v":1.9},{"s":28,"g":14,"v":1.82},{"s":28,"g":20,"v":1.7},{"s":28,"g":25,"v":1.5},{"s":28,"g":30,"v":1.3},{"s":28,"g":35,"v":1.15},{"s":28,"g":40,"v":1.05},{"s":28,"g":45,"v":1.02},{"s":28,"g":50,"v":1.0},{"s":28,"g":55,"v":1.0},{"s":28,"g":60,"v":1.0},{"s":28,"g":70,"v":1.0}
],
"b2": [
{"s":1,"g":0,"v":0.17},{"s":1,"g":1,"v":0.193},{"s":1,"g":3,"v":0.209},{"s":1,"g":6,"v":0.229},{"s":1,"g":10,"v":0.251},{"s":1,"g":15,"v":0.272},{"s":1,"g":22,"v":0.294},{"s":1,"g":30,"v":0.306},{"s":1,"g":40,"v":0.316},{"s":1,"g":52,"v":0.322},{"s":1,"g":70,"v":0.325},
{"s":2,"g":0,"v":0.17},{"s":2,"g":1,"v":0.191},{"s":2,"g":3,"v":0.205},{"s":2,"g":6,"v":0.222},{"s":2,"g":10,"v":0.242},{"s":2,"g":15,"v":0.261},{"s":2,"g":22,"v":0.28},{"s":2,"g":30,"v":0.291},{"s":2,"g":40,"v":0.3},{"s":2,"g":52,"v":0.305},{"s":2,"g":70,"v":0.308},
{"s":3,"g":0,"v":0.17},{"s":3,"g":1,"v":0.15},{"s":3,"g":3,"v":0.18},{"s":3,"g":6,"v":0.212},{"s":3,"g":10,"v":0.227},{"s":3,"g":15,"v":0.243},{"s":3,"g":22,"v":0.258},{"s":3,"g":30,"v":0.267},{"s":3,"g":40,"v":0.273},{"s":3,"g":52,"v":0.278},{"s":3,"g":70,"v":0.28},
{"s":4,"g":0,"v":0.17},{"s":4,"g":1,"v":0.185},{"s":4,"g":3,"v":0.196},{"s":4,"g":6,"v":0.209},{"s":4,"g":10,"v":0.224},{"s":4,"g":15,"v":0.238},{"s":4,"g":22,"v":0.252},{"s":4,"g":30,"v":0.261},{"s":4,"g":40,"v":0.267},{"s":4,"g":52,"v":0.271},{"s":4,"g":70,"v":0.273},
{"s":5,"g":0,"v":0.17},{"s":5,"g":1,"v":0.2},{"s":5,"g":3,"v":0.2},{"s":5,"g":6,"v":0.203},{"s":5,"g":10,"v":0.215},{"s":5,"g":15,"v":0.227},{"s":5,"g":22,"v":0.239},{"s":5,"g":30,"v":0.246},{"s":5,"g":40,"v":0.251},{"s":5,"g":52,"v":0.254},{"s":5,"g":70,"v":0.256},
{"s":6,"g":0,"v":0.17},{"s":6,"g":1,"v":0.182},{"s":6,"g":3,"v":0.189},{"s":6,"g":6,"v":0.199},{"s":6,"g":10,"v":0.21},{"s":6,"g":15,"v":0.221},{"s":6,"g":22,"v":0.232},{"s":6,"g":30,"v":0.238},{"s":6,"g":40,"v":0.242},{"s":6,"g":52,"v":0.245},{"s":6,"g":70,"v":0.247},
{"s":7,"g":0,"v":0.17},{"s":7,"g":1,"v":0.13},{"s":7,"g":3,"v":0.16},{"s":7,"g":6,"v":0.197},{"s":7,"g":10,"v":0.206},{"s":7,"g":15,"v":0.216},{"s":7,"g":22,"v":0.226},{"s":7,"g":30,"v":0.232},{"s":7,"g":40,"v":0.236},{"s":7,"g":52,"v":0.239},{"s":7,"g":70,"v":0.24},
{"s":8,"g":0,"v":0.17},{"s":8,"g":1,"v":0.179},{"s":8,"g":3,"v":0.185},{"s":8,"g":6,"v":0.192},{"s":8,"g":10,"v":0.201},{"s":8,"g":15,"v":0.209},{"s":8,"g":22,"v":0.217},{"s":8,"g":30,"v":0.222},{"s":8,"g":40,"v":0.226},{"s":8,"g":52,"v":0.228},{"s":8,"g":70,"v":0.229},
{"s":9,"g":0,"v":0.17},{"s":9,"g":1,"v":0.235},{"s":9,"g":3,"v":0.21},{"s":9,"g":6,"v":0.195},{"s":9,"g":10,"v":0.196},{"s":9,"g":15,"v":0.203},{"s":9,"g":22,"v":0.21},{"s":9,"g":30,"v":0.214},{"s":9,"g":40,"v":0.217},{"s":9,"g":52,"v":0.219},{"s":9,"g":70,"v":0.22},
{"s":10,"g":0,"v":0.17},{"s":10,"g":1,"v":0.176},{"s":10,"g":3,"v":0.18},{"s":10,"g":6,"v":0.185},{"s":10,"g":10,"v":0.19},{"s":10,"g":15,"v":0.196},{"s":10,"g":22,"v":0.201},{"s":10,"g":30,"v":0.204},{"s":10,"g":40,"v":0.207},{"s":10,"g":52,"v":0.208},{"s":10,"g":70,"v":0.209},
{"s":11,"g":0,"v":0.17},{"s":11,"g":1,"v":0.12},{"s":11,"g":3,"v":0.15},{"s":11,"g":6,"v":0.175},{"s":11,"g":10,"v":0.19},{"s":11,"g":15,"v":0.19},{"s":11,"g":22,"v":0.194},{"s":11,"g":30,"v":0.196},{"s":11,"g":40,"v":0.198},{"s":11,"g":52,"v":0.199},{"s":11,"g":70,"v":0.2},
{"s":12,"g":0,"v":0.17},{"s":12,"g":1,"v":0.173},{"s":12,"g":3,"v":0.175},{"s":12,"g":6,"v":0.177},{"s":12,"g":10,"v":0.18},{"s":12,"g":15,"v":0.183},{"s":12,"g":22,"v":0.185},{"s":12,"g":30,"v":0.187},{"s":12,"g":40,"v":0.188},{"s":12,"g":52,"v":0.189},{"s":12,"g":70,"v":0.189},
{"s":13,"g":0,"v":0.17},{"s":13,"g":1,"v":0.21},{"s":13,"g":3,"v":0.2},{"s":13,"g":6,"v":0.19},{"s":13,"g":10,"v":0.185},{"s":13,"g":15,"v":0.182},{"s":13,"g":22,"v":0.181},{"s":13,"g":30,"v":0.18},{"s":13,"g":40,"v":0.18},{"s":13,"g":52,"v":0.18},{"s":13,"g":70,"v":0.18},
{"s":14,"g":0,"v":0.17},{"s":14,"g":1,"v":0.16},{"s":14,"g":3,"v":0.165},{"s":14,"g":6,"v":0.17},{"s":14,"g":10,"v":0.175},{"s":14,"g":15,"v":0.175},{"s":14,"g":22,"v":0.172},{"s":14,"g":30,"v":0.171},{"s":14,"g":40,"v":0.17},{"s":14,"g":52,"v":0.17},{"s":14,"g":70,"v":0.17},
{"s":15,"g":0,"v":0.17},{"s":15,"g":1,"v":0.19},{"s":15,"g":3,"v":0.18},{"s":15,"g":6,"v":0.17},{"s":15,"g":10,"v":0.165},{"s":15,"g":15,"v":0.163},{"s":15,"g":22,"v":0.162},{"s":15,"g":30,"v":0.161},{"s":15,"g":40,"v":0.16},{"s":15,"g":52,"v":0.16},{"s":15,"g":70,"v":0.16},
{"s":16,"g":0,"v":0.17},{"s":16,"g":1,"v":0.166},{"s":16,"g":3,"v":0.164},{"s":16,"g":6,"v":0.161},{"s":16,"g":10,"v":0.158},{"s":16,"g":15,"v":0.155},{"s":16,"g":22,"v":0.152},{"s":16,"g":30,"v":0.15},{"s":16,"g":40,"v":0.148},{"s":16,"g":52,"v":0.147},{"s":16,"g":70,"v":0.147},
{"s":17,"g":0,"v":0.17},{"s":17,"g":1,"v":0.11},{"s":17,"g":3,"v":0.14},{"s":17,"g":6,"v":0.157},{"s":17,"g":10,"v":0.152},{"s":17,"g":15,"v":0.148},{"s":17,"g":22,"v":0.143},{"s":17,"g":30,"v":0.14},{"s":17,"g":40,"v":0.138},{"s":17,"g":52,"v":0.137},{"s":17,"g":70,"v":0.136},
{"s":18,"g":0,"v":0.17},{"s":18,"g":1,"v":0.164},{"s":18,"g":3,"v":0.159},{"s":18,"g":6,"v":0.154},{"s":18,"g":10,"v":0.148},{"s":18,"g":15,"v":0.142},{"s":18,"g":22,"v":0.136},{"s":18,"g":30,"v":0.132},{"s":18,"g":40,"v":0.13},{"s":18,"g":52,"v":0.128},{"s":18,"g":70,"v":0.127},
{"s":19,"g":0,"v":0.17},{"s":19,"g":1,"v":0.161},{"s":19,"g":3,"v":0.156},{"s":19,"g":6,"v":0.148},{"s":19,"g":10,"v":0.14},{"s":19,"g":15,"v":0.132},{"s":19,"g":22,"v":0.124},{"s":19,"g":30,"v":0.12},{"s":19,"g":40,"v":0.116},{"s":19,"g":52,"v":0.114},{"s":19,"g":70,"v":0.113},
{"s":20,"g":0,"v":0.17},{"s":20,"g":1,"v":0.2},{"s":20,"g":3,"v":0.175},{"s":20,"g":6,"v":0.145},{"s":20,"g":10,"v":0.135},{"s":20,"g":15,"v":0.126},{"s":20,"g":22,"v":0.116},{"s":20,"g":30,"v":0.111},{"s":20,"g":40,"v":0.107},{"s":20,"g":52,"v":0.104},{"s":20,"g":70,"v":0.103},
{"s":21,"g":0,"v":0.17},{"s":21,"g":1,"v":0.158},{"s":21,"g":3,"v":0.15},{"s":21,"g":6,"v":0.14},{"s":21,"g":10,"v":0.129},{"s":21,"g":15,"v":0.118},{"s":21,"g":22,"v":0.108},{"s":21,"g":30,"v":0.101},{"s":21,"g":40,"v":0.097},{"s":21,"g":52,"v":0.094},{"s":21,"g":70,"v":0.092},
{"s":22,"g":0,"v":0.17},{"s":22,"g":1,"v":0.155},{"s":22,"g":3,"v":0.145},{"s":22,"g":6,"v":0.132},{"s":22,"g":10,"v":0.117},{"s":22,"g":15,"v":0.103},{"s":22,"g":22,"v":0.089},{"s":22,"g":30,"v":0.081},{"s":22,"g":40,"v":0.075},{"s":22,"g":52,"v":0.071},{"s":22,"g":70,"v":0.069},
{"s":23,"g":0,"v":0.17},{"s":23,"g":1,"v":0.154},{"s":23,"g":3,"v":0.142},{"s":23,"g":6,"v":0.128},{"s":23,"g":10,"v":0.113},{"s":23,"g":15,"v":0.097},{"s":23,"g":22,"v":0.082},{"s":23,"g":30,"v":0.073},{"s":23,"g":40,"v":0.067},{"s":23,"g":52,"v":0.062},{"s":23,"g":70,"v":0.06},
{"s":24,"g":0,"v":0.17},{"s":24,"g":1,"v":0.152},{"s":24,"g":3,"v":0.14},{"s":24,"g":6,"v":0.124},{"s":24,"g":10,"v":0.107},{"s":24,"g":15,"v":0.09},{"s":24,"g":22,"v":0.073},{"s":24,"g":30,"v":0.064},{"s":24,"g":40,"v":0.056},{"s":24,"g":52,"v":0.051},{"s":24,"g":70,"v":0.049},
{"s":25,"g":0,"v":0.17},{"s":25,"g":1,"v":0.13},{"s":25,"g":3,"v":0.12},{"s":25,"g":6,"v":0.11},{"s":25,"g":10,"v":0.1},{"s":25,"g":15,"v":0.085},{"s":25,"g":22,"v":0.06},{"s":25,"g":30,"v":0.035},{"s":25,"g":40,"v":0.02},{"s":25,"g":52,"v":0.008},{"s":25,"g":70,"v":0.003},
{"s":26,"g":0,"v":0.17},{"s":26,"g":1,"v":0.12},{"s":26,"g":3,"v":0.115},{"s":26,"g":6,"v":0.105},{"s":26,"g":10,"v":0.095},{"s":26,"g":15,"v":0.075},{"s":26,"g":22,"v":0.045},{"s":26,"g":30,"v":0.025},{"s":26,"g":40,"v":0.005},{"s":26,"g":52,"v":-0.008},{"s":26,"g":70,"v":-0.013}
],
"b1": [
{"s":1,"g":0,"v":-0.04},{"s":1,"g":1,"v":-0.03},{"s":1,"g":3,"v":-0.027},{"s":1,"g":6,"v":-0.026},{"s":1,"g":10,"v":-0.02},{"s":1,"g":15,"v":-0.012},{"s":1,"g":22,"v":-0.006},{"s":1,"g":30,"v":-0.001},{"s":1,"g":40,"v":0.001},{"s":1,"g":52,"v":0.002},{"s":1,"g":70,"v":0.003},
{"s":2,"g":0,"v":-0.04},{"s":2,"g":1,"v":-0.036},{"s":2,"g":3,"v":-0.034},{"s":2,"g":6,"v":-0.03},{"s":2,"g":10,"v":-0.027},{"s":2,"g":15,"v":-0.023},{"s":2,"g":22,"v":-0.019},{"s":2,"g":30,"v":-0.017},{"s":2,"g":40,"v":-0.016},{"s":2,"g":52,"v":-0.015},{"s":2,"g":70,"v":-0.014},
{"s":3,"g":0,"v":-0.04},{"s":3,"g":1,"v":-0.025},{"s":3,"g":3,"v":-0.03},{"s":3,"g":6,"v":-0.032},{"s":3,"g":10,"v":-0.029},{"s":3,"g":15,"v":-0.026},{"s":3,"g":22,"v":-0.023},{"s":3,"g":30,"v":-0.022},{"s":3,"g":40,"v":-0.02},{"s":3,"g":52,"v":-0.019},{"s":3,"g":70,"v":-0.019},
{"s":4,"g":0,"v":-0.04},{"s":4,"g":1,"v":-0.038},{"s":4,"g":3,"v":-0.036},{"s":4,"g":6,"v":-0.034},{"s":4,"g":10,"v":-0.032},{"s":4,"g":15,"v":-0.03},{"s":4,"g":22,"v":-0.028},{"s":4,"g":30,"v":-0.027},{"s":4,"g":40,"v":-0.026},{"s":4,"g":52,"v":-0.025},{"s":4,"g":70,"v":-0.025},
{"s":5,"g":0,"v":-0.04},{"s":5,"g":1,"v":-0.03},{"s":5,"g":3,"v":-0.031},{"s":5,"g":6,"v":-0.032},{"s":5,"g":10,"v":-0.031},{"s":5,"g":15,"v":-0.03},{"s":5,"g":22,"v":-0.029},{"s":5,"g":30,"v":-0.029},{"s":5,"g":40,"v":-0.028},{"s":5,"g":52,"v":-0.028},{"s":5,"g":70,"v":-0.028},
{"s":6,"g":0,"v":-0.04},{"s":6,"g":1,"v":-0.042},{"s":6,"g":3,"v":-0.039},{"s":6,"g":6,"v":-0.036},{"s":6,"g":10,"v":-0.034},{"s":6,"g":15,"v":-0.033},{"s":6,"g":22,"v":-0.032},{"s":6,"g":30,"v":-0.031},{"s":6,"g":40,"v":-0.03},{"s":6,"g":52,"v":-0.03},{"s":6,"g":70,"v":-0.03},
{"s":7,"g":0,"v":-0.04},{"s":7,"g":1,"v":-0.035},{"s":7,"g":3,"v":-0.034},{"s":7,"g":6,"v":-0.034},{"s":7,"g":10,"v":-0.034},{"s":7,"g":15,"v":-0.033},{"s":7,"g":22,"v":-0.033},{"s":7,"g":30,"v":-0.032},{"s":7,"g":40,"v":-0.032},{"s":7,"g":52,"v":-0.032},{"s":7,"g":70,"v":-0.032},
{"s":8,"g":0,"v":-0.04},{"s":8,"g":1,"v":-0.045},{"s":8,"g":3,"v":-0.042},{"s":8,"g":6,"v":-0.039},{"s":8,"g":10,"v":-0.037},{"s":8,"g":15,"v":-0.036},{"s":8,"g":22,"v":-0.035},{"s":8,"g":30,"v":-0.034},{"s":8,"g":40,"v":-0.034},{"s":8,"g":52,"v":-0.034},{"s":8,"g":70,"v":-0.034},
{"s":9,"g":0,"v":-0.04},{"s":9,"g":1,"v":-0.038},{"s":9,"g":3,"v":-0.037},{"s":9,"g":6,"v":-0.036},{"s":9,"g":10,"v":-0.035},{"s":9,"g":15,"v":-0.035},{"s":9,"g":22,"v":-0.035},{"s":9,"g":30,"v":-0.036},{"s":9,"g":40,"v":-0.036},{"s":9,"g":52,"v":-0.036},{"s":9,"g":70,"v":-0.036},
{"s":10,"g":0,"v":-0.04},{"s":10,"g":1,"v":-0.032},{"s":10,"g":3,"v":-0.034},{"s":10,"g":6,"v":-0.036},{"s":10,"g":10,"v":-0.037},{"s":10,"g":15,"v":-0.037},{"s":10,"g":22,"v":-0.038},{"s":10,"g":30,"v":-0.038},{"s":10,"g":40,"v":-0.038},{"s":10,"g":52,"v":-0.038},{"s":10,"g":70,"v":-0.038},
{"s":11,"g":0,"v":-0.04},{"s":11,"g":1,"v":-0.044},{"s":11,"g":3,"v":-0.043},{"s":11,"g":6,"v":-0.042},{"s":11,"g":10,"v":-0.041},{"s":11,"g":15,"v":-0.041},{"s":11,"g":22,"v":-0.04},{"s":11,"g":30,"v":-0.04},{"s":11,"g":40,"v":-0.04},{"s":11,"g":52,"v":-0.04},{"s":11,"g":70,"v":-0.04},
{"s":12,"g":0,"v":-0.04},{"s":12,"g":1,"v":-0.036},{"s":12,"g":3,"v":-0.038},{"s":12,"g":6,"v":-0.04},{"s":12,"g":10,"v":-0.041},{"s":12,"g":15,"v":-0.041},{"s":12,"g":22,"v":-0.042},{"s":12,"g":30,"v":-0.042},{"s":12,"g":40,"v":-0.042},{"s":12,"g":52,"v":-0.042},{"s":12,"g":70,"v":-0.042},
{"s":13,"g":0,"v":-0.04},{"s":13,"g":1,"v":-0.048},{"s":13,"g":3,"v":-0.046},{"s":13,"g":6,"v":-0.045},{"s":13,"g":10,"v":-0.044},{"s":13,"g":15,"v":-0.044},{"s":13,"g":22,"v":-0.044},{"s":13,"g":30,"v":-0.044},{"s":13,"g":40,"v":-0.044},{"s":13,"g":52,"v":-0.044},{"s":13,"g":70,"v":-0.044},
{"s":14,"g":0,"v":-0.04},{"s":14,"g":1,"v":-0.041},{"s":14,"g":3,"v":-0.042},{"s":14,"g":6,"v":-0.043},{"s":14,"g":10,"v":-0.044},{"s":14,"g":15,"v":-0.045},{"s":14,"g":22,"v":-0.045},{"s":14,"g":30,"v":-0.046},{"s":14,"g":40,"v":-0.046},{"s":14,"g":52,"v":-0.046},{"s":14,"g":70,"v":-0.046},
{"s":15,"g":0,"v":-0.04},{"s":15,"g":1,"v":-0.035},{"s":15,"g":3,"v":-0.039},{"s":15,"g":6,"v":-0.043},{"s":15,"g":10,"v":-0.045},{"s":15,"g":15,"v":-0.046},{"s":15,"g":22,"v":-0.047},{"s":15,"g":30,"v":-0.048},{"s":15,"g":40,"v":-0.048},{"s":15,"g":52,"v":-0.048},{"s":15,"g":70,"v":-0.048},
{"s":16,"g":0,"v":-0.04},{"s":16,"g":1,"v":-0.043},{"s":16,"g":3,"v":-0.044},{"s":16,"g":6,"v":-0.045},{"s":16,"g":10,"v":-0.046},{"s":16,"g":15,"v":-0.047},{"s":16,"g":22,"v":-0.048},{"s":16,"g":30,"v":-0.049},{"s":16,"g":40,"v":-0.05},{"s":16,"g":52,"v":-0.05},{"s":16,"g":70,"v":-0.05},
{"s":17,"g":0,"v":-0.04},{"s":17,"g":1,"v":-0.05},{"s":17,"g":3,"v":-0.049},{"s":17,"g":6,"v":-0.049},{"s":17,"g":10,"v":-0.05},{"s":17,"g":15,"v":-0.05},{"s":17,"g":22,"v":-0.051},{"s":17,"g":30,"v":-0.051},{"s":17,"g":40,"v":-0.052},{"s":17,"g":52,"v":-0.052},{"s":17,"g":70,"v":-0.052},
{"s":18,"g":0,"v":-0.04},{"s":18,"g":1,"v":-0.042},{"s":18,"g":3,"v":-0.044},{"s":18,"g":6,"v":-0.045},{"s":18,"g":10,"v":-0.047},{"s":18,"g":15,"v":-0.049},{"s":18,"g":22,"v":-0.051},{"s":18,"g":30,"v":-0.052},{"s":18,"g":40,"v":-0.053},{"s":18,"g":52,"v":-0.054},{"s":18,"g":70,"v":-0.054},
{"s":19,"g":0,"v":-0.04},{"s":19,"g":1,"v":-0.038},{"s":19,"g":3,"v":-0.042},{"s":19,"g":6,"v":-0.046},{"s":19,"g":10,"v":-0.049},{"s":19,"g":15,"v":-0.051},{"s":19,"g":22,"v":-0.053},{"s":19,"g":30,"v":-0.054},{"s":19,"g":40,"v":-0.055},{"s":19,"g":52,"v":-0.056},{"s":19,"g":70,"v":-0.056},
{"s":20,"g":0,"v":-0.04},{"s":20,"g":1,"v":-0.043},{"s":20,"g":3,"v":-0.045},{"s":20,"g":6,"v":-0.047},{"s":20,"g":10,"v":-0.049},{"s":20,"g":15,"v":-0.052},{"s":20,"g":22,"v":-0.054},{"s":20,"g":30,"v":-0.056},{"s":20,"g":40,"v":-0.057},{"s":20,"g":52,"v":-0.058},{"s":20,"g":70,"v":-0.058},
{"s":21,"g":0,"v":-0.04},{"s":21,"g":1,"v":-0.052},{"s":21,"g":3,"v":-0.052},{"s":21,"g":6,"v":-0.053},{"s":21,"g":10,"v":-0.054},{"s":21,"g":15,"v":-0.056},{"s":21,"g":22,"v":-0.058},{"s":21,"g":30,"v":-0.059},{"s":21,"g":40,"v":-0.059},{"s":21,"g":52,"v":-0.06},{"s":21,"g":70,"v":-0.06},
{"s":22,"g":0,"v":-0.04},{"s":22,"g":1,"v":-0.043},{"s":22,"g":3,"v":-0.046},{"s":22,"g":6,"v":-0.048},{"s":22,"g":10,"v":-0.051},{"s":22,"g":15,"v":-0.055},{"s":22,"g":22,"v":-0.058},{"s":22,"g":30,"v":-0.059},{"s":22,"g":40,"v":-0.061},{"s":22,"g":52,"v":-0.062},{"s":22,"g":70,"v":-0.062},
{"s":23,"g":0,"v":-0.04},{"s":23,"g":1,"v":-0.046},{"s":23,"g":3,"v":-0.048},{"s":23,"g":6,"v":-0.05},{"s":23,"g":10,"v":-0.053},{"s":23,"g":15,"v":-0.056},{"s":23,"g":22,"v":-0.059},{"s":23,"g":30,"v":-0.061},{"s":23,"g":40,"v":-0.062},{"s":23,"g":52,"v":-0.063},{"s":23,"g":70,"v":-0.063},
{"s":24,"g":0,"v":-0.04},{"s":24,"g":1,"v":-0.044},{"s":24,"g":3,"v":-0.046},{"s":24,"g":6,"v":-0.05},{"s":24,"g":10,"v":-0.053},{"s":24,"g":15,"v":-0.057},{"s":24,"g":22,"v":-0.06},{"s":24,"g":30,"v":-0.062},{"s":24,"g":40,"v":-0.064},{"s":24,"g":52,"v":-0.065},{"s":24,"g":70,"v":-0.065},
{"s":25,"g":0,"v":-0.04},{"s":25,"g":1,"v":-0.045},{"s":25,"g":3,"v":-0.048},{"s":25,"g":6,"v":-0.052},{"s":25,"g":10,"v":-0.056},{"s":25,"g":15,"v":-0.06},{"s":25,"g":22,"v":-0.064},{"s":25,"g":30,"v":-0.068},{"s":25,"g":40,"v":-0.071},{"s":25,"g":52,"v":-0.072},{"s":25,"g":70,"v":-0.073},
{"s":26,"g":0,"v":-0.04},{"s":26,"g":1,"v":-0.046},{"s":26,"g":3,"v":-0.05},{"s":26,"g":6,"v":-0.055},{"s":26,"g":10,"v":-0.061},{"s":26,"g":15,"v":-0.07},{"s":26,"g":22,"v":-0.08},{"s":26,"g":30,"v":-0.082},{"s":26,"g":40,"v":-0.083},{"s":26,"g":52,"v":-0.084},{"s":26,"g":70,"v":-0.084}
],
"cv": [
{"s":1,"g":0,"v":0.35},{"s":1,"g":1,"v":-0.09},{"s":1,"g":2,"v":-0.48},{"s":1,"g":4,"v":-0.62},{"s":1,"g":7,"v":-0.94},{"s":1,"g":10,"v":-0.86},{"s":1,"g":13,"v":-1.16},{"s":1,"g":16,"v":-1.27},{"s":1,"g":19,"v":-1.6},{"s":1,"g":22,"v":-1.57},{"s":1,"g":25,"v":-1.9},{"s":1,"g":28,"v":-2.02},{"s":1,"g":31,"v":-2.12},{"s":1,"g":34,"v":-2.45},{"s":1,"g":37,"v":-2.37},{"s":1,"g":40,"v":-2.67},{"s":1,"g":43,"v":-2.74},{"s":1,"g":46,"v":-3.03},{"s":1,"g":49,"v":-2.94},{"s":1,"g":52,"v":-3.16},{"s":1,"g":55,"v":-3.17},{"s":1,"g":58,"v":-3.4},{"s":1,"g":61,"v":-3.33},{"s":1,"g":64,"v":-3.62},{"s":1,"g":67,"v":-3.63},{"s":1,"g":70,"v":-3.65},
{"s":2,"g":0,"v":0.35},{"s":2,"g":1,"v":-0.34},{"s":2,"g":2,"v":-0.7},{"s":2,"g":4,"v":-0.83},{"s":2,"g":7,"v":-1.28},{"s":2,"g":10,"v":-1.33},{"s":2,"g":13,"v":-1.62},{"s":2,"g":16,"v":-1.69},{"s":2,"g":19,"v":-2.12},{"s":2,"g":22,"v":-2.14},{"s":2,"g":25,"v":-2.37},{"s":2,"g":28,"v":-2.67},{"s":2,"g":31,"v":-2.7},{"s":2,"g":34,"v":-3.07},{"s":2,"g":37,"v":-3.07},{"s":2,"g":40,"v":-3.31},{"s":2,"g":43,"v":-3.31},{"s":2,"g":46,"v":-3.7},{"s":2,"g":49,"v":-3.74},{"s":2,"g":52,"v":-3.92},{"s":2,"g":55,"v":-3.89},{"s":2,"g":58,"v":-4.22},{"s":2,"g":61,"v":-4.17},{"s":2,"g":64,"v":-4.36},{"s":2,"g":67,"v":-4.55},{"s":2,"g":70,"v":-4.47},
{"s":3,"g":0,"v":0.35},{"s":3,"g":1,"v":-0.21},{"s":3,"g":2,"v":-0.59},{"s":3,"g":4,"v":-0.6},{"s":3,"g":7,"v":-0.9},{"s":3,"g":10,"v":-0.96},{"s":3,"g":13,"v":-1.3},{"s":3,"g":16,"v":-1.27},{"s":3,"g":19,"v":-1.66},{"s":3,"g":22,"v":-1.78},{"s":3,"g":25,"v":-1.84},{"s":3,"g":28,"v":-2.21},{"s":3,"g":31,"v":-2.18},{"s":3,"g":34,"v":-2.5},{"s":3,"g":37,"v":-2.56},{"s":3,"g":40,"v":-2.85},{"s":3,"g":43,"v":-2.78},{"s":3,"g":46,"v":-3.04},{"s":3,"g":49,"v":-3.1},{"s":3,"g":52,"v":-3.35},{"s":3,"g":55,"v":-3.22},{"s":3,"g":58,"v":-3.51},{"s":3,"g":61,"v":-3.59},{"s":3,"g":64,"v":-3.6},{"s":3,"g":67,"v":-3.87},{"s":3,"g":70,"v":-3.75},
{"s":4,"g":0,"v":0.35},{"s":4,"g":1,"v":-0.24},{"s":4,"g":2,"v":-0.73},{"s":4,"g":4,"v":-0.88},{"s":4,"g":7,"v":-1.18},{"s":4,"g":10,"v":-1.19},{"s":4,"g":13,"v":-1.62},{"s":4,"g":16,"v":-1.63},{"s":4,"g":19,"v":-1.91},{"s":4,"g":22,"v":-2.2},{"s":4,"g":25,"v":-2.18},{"s":4,"g":28,"v":-2.61},{"s":4,"g":31,"v":-2.65},{"s":4,"g":34,"v":-2.88},{"s":4,"g":37,"v":-2.89},{"s":4,"g":40,"v":-3.27},{"s":4,"g":43,"v":-3.3},{"s":4,"g":46,"v":-3.54},{"s":4,"g":49,"v":-3.55},{"s":4,"g":52,"v":-3.87},{"s":4,"g":55,"v":-3.78},{"s":4,"g":58,"v":-3.96},{"s":4,"g":61,"v":-4.19},{"s":4,"g":64,"v":-4.12},{"s":4,"g":67,"v":-4.45},{"s":4,"g":70,"v":-4.38},
{"s":5,"g":0,"v":0.35},{"s":5,"g":1,"v":-0.17},{"s":5,"g":2,"v":-0.53},{"s":5,"g":4,"v":-0.69},{"s":5,"g":7,"v":-1.03},{"s":5,"g":10,"v":-0.96},{"s":5,"g":13,"v":-1.35},{"s":5,"g":16,"v":-1.48},{"s":5,"g":19,"v":-1.59},{"s":5,"g":22,"v":-1.97},{"s":5,"g":25,"v":-1.89},{"s":5,"g":28,"v":-2.26},{"s":5,"g":31,"v":-2.37},{"s":5,"g":34,"v":-2.67},{"s":5,"g":37,"v":-2.6},{"s":5,"g":40,"v":-2.86},{"s":5,"g":43,"v":-2.93},{"s":5,"g":46,"v":-3.23},{"s":5,"g":49,"v":-3.15},{"s":5,"g":52,"v":-3.45},{"s":5,"g":55,"v":-3.48},{"s":5,"g":58,"v":-3.49},{"s":5,"g":61,"v":-3.82},{"s":5,"g":64,"v":-3.7},{"s":5,"g":67,"v":-3.96},{"s":5,"g":70,"v":-3.98},
{"s":6,"g":0,"v":0.35},{"s":6,"g":1,"v":-0.31},{"s":6,"g":2,"v":-0.65},{"s":6,"g":4,"v":-0.76},{"s":6,"g":7,"v":-1.19},{"s":6,"g":10,"v":-1.15},{"s":6,"g":13,"v":-1.42},{"s":6,"g":16,"v":-1.71},{"s":6,"g":19,"v":-1.73},{"s":6,"g":22,"v":-2.16},{"s":6,"g":25,"v":-2.14},{"s":6,"g":28,"v":-2.43},{"s":6,"g":31,"v":-2.48},{"s":6,"g":34,"v":-2.85},{"s":6,"g":37,"v":-2.89},{"s":6,"g":40,"v":-3.12},{"s":6,"g":43,"v":-3.12},{"s":6,"g":46,"v":-3.5},{"s":6,"g":49,"v":-3.45},{"s":6,"g":52,"v":-3.62},{"s":6,"g":55,"v":-3.81},{"s":6,"g":58,"v":-3.73},{"s":6,"g":61,"v":-4.1},{"s":6,"g":64,"v":-4.04},{"s":6,"g":67,"v":-4.22},{"s":6,"g":70,"v":-4.17},
{"s":7,"g":0,"v":0.35},{"s":7,"g":1,"v":-0.24},{"s":7,"g":2,"v":-0.64},{"s":7,"g":4,"v":-0.67},{"s":7,"g":7,"v":-1.07},{"s":7,"g":10,"v":-1.15},{"s":7,"g":13,"v":-1.27},{"s":7,"g":16,"v":-1.65},{"s":7,"g":19,"v":-1.63},{"s":7,"g":22,"v":-2.0},{"s":7,"g":25,"v":-2.07},{"s":7,"g":28,"v":-2.42},{"s":7,"g":31,"v":-2.4},{"s":7,"g":34,"v":-2.67},{"s":7,"g":37,"v":-2.74},{"s":7,"g":40,"v":-3.04},{"s":7,"g":43,"v":-2.97},{"s":7,"g":46,"v":-3.32},{"s":7,"g":49,"v":-3.4},{"s":7,"g":52,"v":-3.42},{"s":7,"g":55,"v":-3.7},{"s":7,"g":58,"v":-3.58},{"s":7,"g":61,"v":-3.9},{"s":7,"g":64,"v":-3.92},{"s":7,"g":67,"v":-4.17},{"s":7,"g":70,"v":-4.05},
{"s":8,"g":0,"v":0.35},{"s":8,"g":1,"v":-0.14},{"s":8,"g":2,"v":-0.58},{"s":8,"g":4,"v":-0.61},{"s":8,"g":7,"v":-0.85},{"s":8,"g":10,"v":-1.07},{"s":8,"g":13,"v":-1.08},{"s":8,"g":16,"v":-1.48},{"s":8,"g":19,"v":-1.5},{"s":8,"g":22,"v":-1.77},{"s":8,"g":25,"v":-1.76},{"s":8,"g":28,"v":-2.16},{"s":8,"g":31,"v":-2.23},{"s":8,"g":34,"v":-2.46},{"s":8,"g":37,"v":-2.45},{"s":8,"g":40,"v":-2.81},{"s":8,"g":43,"v":-2.76},{"s":8,"g":46,"v":-2.96},{"s":8,"g":49,"v":-3.18},{"s":8,"g":52,"v":-3.1},{"s":8,"g":55,"v":-3.41},{"s":8,"g":58,"v":-3.33},{"s":8,"g":61,"v":-3.56},{"s":8,"g":64,"v":-3.49},{"s":8,"g":67,"v":-3.8},{"s":8,"g":70,"v":-3.78},
{"s":9,"g":0,"v":0.35},{"s":9,"g":1,"v":-0.25},{"s":9,"g":2,"v":-0.72},{"s":9,"g":4,"v":-0.93},{"s":9,"g":7,"v":-1.07},{"s":9,"g":10,"v":-1.41},{"s":9,"g":13,"v":-1.41},{"s":9,"g":16,"v":-1.79},{"s":9,"g":19,"v":-1.92},{"s":9,"g":22,"v":-2.28},{"s":9,"g":25,"v":-2.23},{"s":9,"g":28,"v":-2.56},{"s":9,"g":31,"v":-2.69},{"s":9,"g":34,"v":-2.99},{"s":9,"g":37,"v":-2.93},{"s":9,"g":40,"v":-3.3},{"s":9,"g":43,"v":-3.38},{"s":9,"g":46,"v":-3.46},{"s":9,"g":49,"v":-3.8},{"s":9,"g":52,"v":-3.68},{"s":9,"g":55,"v":-3.96},{"s":9,"g":58,"v":-4.0},{"s":9,"g":61,"v":-4.3},{"s":9,"g":64,"v":-4.19},{"s":9,"g":67,"v":-4.42},{"s":9,"g":70,"v":-4.44},
{"s":10,"g":0,"v":0.35},{"s":10,"g":1,"v":-0.19},{"s":10,"g":2,"v":-0.49},{"s":10,"g":4,"v":-0.81},{"s":10,"g":7,"v":-0.81},{"s":10,"g":10,"v":-1.17},{"s":10,"g":13,"v":-1.2},{"s":10,"g":16,"v":-1.47},{"s":10,"g":19,"v":-1.51},{"s":10,"g":22,"v":-1.92},{"s":10,"g":25,"v":-1.95},{"s":10,"g":28,"v":-2.22},{"s":10,"g":31,"v":-2.26},{"s":10,"g":34,"v":-2.63},{"s":10,"g":37,"v":-2.57},{"s":10,"g":40,"v":-2.79},{"s":10,"g":43,"v":-3.02},{"s":10,"g":46,"v":-2.98},{"s":10,"g":49,"v":-3.34},{"s":10,"g":52,"v":-3.27},{"s":10,"g":55,"v":-3.44},{"s":10,"g":58,"v":-3.39},{"s":10,"g":61,"v":-3.76},{"s":10,"g":64,"v":-3.73},{"s":10,"g":67,"v":-3.9},{"s":10,"g":70,"v":-3.85},
{"s":11,"g":0,"v":0.35},{"s":11,"g":1,"v":-0.35},{"s":11,"g":2,"v":-0.53},{"s":11,"g":4,"v":-0.98},{"s":11,"g":7,"v":-0.97},{"s":11,"g":10,"v":-1.3},{"s":11,"g":13,"v":-1.43},{"s":11,"g":16,"v":-1.78},{"s":11,"g":19,"v":-1.77},{"s":11,"g":22,"v":-2.1},{"s":11,"g":25,"v":-2.18},{"s":11,"g":28,"v":-2.53},{"s":11,"g":31,"v":-2.52},{"s":11,"g":34,"v":-2.87},{"s":11,"g":37,"v":-2.96},{"s":11,"g":40,"v":-3.04},{"s":11,"g":43,"v":-3.37},{"s":11,"g":46,"v":-3.3},{"s":11,"g":49,"v":-3.63},{"s":11,"g":52,"v":-3.65},{"s":11,"g":55,"v":-3.91},{"s":11,"g":58,"v":-3.8},{"s":11,"g":61,"v":-4.07},{"s":11,"g":64,"v":-4.09},{"s":11,"g":67,"v":-4.35},{"s":11,"g":70,"v":-4.23},
{"s":12,"g":0,"v":0.35},{"s":12,"g":1,"v":-0.37},{"s":12,"g":2,"v":-0.43},{"s":12,"g":4,"v":-0.9},{"s":12,"g":7,"v":-0.92},{"s":12,"g":10,"v":-1.15},{"s":12,"g":13,"v":-1.2},{"s":12,"g":16,"v":-1.61},{"s":12,"g":19,"v":-1.69},{"s":12,"g":22,"v":-1.97},{"s":12,"g":25,"v":-1.97},{"s":12,"g":28,"v":-2.38},{"s":12,"g":31,"v":-2.38},{"s":12,"g":34,"v":-2.6},{"s":12,"g":37,"v":-2.83},{"s":12,"g":40,"v":-2.8},{"s":12,"g":43,"v":-3.17},{"s":12,"g":46,"v":-3.14},{"s":12,"g":49,"v":-3.37},{"s":12,"g":52,"v":-3.32},{"s":12,"g":55,"v":-3.64},{"s":12,"g":58,"v":-3.62},{"s":12,"g":61,"v":-3.85},{"s":12,"g":64,"v":-3.79},{"s":12,"g":67,"v":-4.11},{"s":12,"g":70,"v":-4.01},
{"s":13,"g":0,"v":0.35},{"s":13,"g":1,"v":-0.42},{"s":13,"g":2,"v":-0.45},{"s":13,"g":4,"v":-0.88},{"s":13,"g":7,"v":-1.0},{"s":13,"g":10,"v":-1.3},{"s":13,"g":13,"v":-1.29},{"s":13,"g":16,"v":-1.61},{"s":13,"g":19,"v":-1.73},{"s":13,"g":22,"v":-2.08},{"s":13,"g":25,"v":-2.02},{"s":13,"g":28,"v":-2.42},{"s":13,"g":31,"v":-2.55},{"s":13,"g":34,"v":-2.62},{"s":13,"g":37,"v":-2.95},{"s":13,"g":40,"v":-2.89},{"s":13,"g":43,"v":-3.21},{"s":13,"g":46,"v":-3.28},{"s":13,"g":49,"v":-3.58},{"s":13,"g":52,"v":-3.46},{"s":13,"g":55,"v":-3.68},{"s":13,"g":58,"v":-3.71},{"s":13,"g":61,"v":-4.01},{"s":13,"g":64,"v":-3.89},{"s":13,"g":67,"v":-4.19},{"s":13,"g":70,"v":-4.22},
{"s":14,"g":0,"v":0.35},{"s":14,"g":1,"v":-0.32},{"s":14,"g":2,"v":-0.36},{"s":14,"g":4,"v":-0.66},{"s":14,"g":7,"v":-0.67},{"s":14,"g":10,"v":-1.02},{"s":14,"g":13,"v":-1.09},{"s":14,"g":16,"v":-1.35},{"s":14,"g":19,"v":-1.38},{"s":14,"g":22,"v":-1.78},{"s":14,"g":25,"v":-1.72},{"s":14,"g":28,"v":-1.97},{"s":14,"g":31,"v":-2.23},{"s":14,"g":34,"v":-2.2},{"s":14,"g":37,"v":-2.55},{"s":14,"g":40,"v":-2.52},{"s":14,"g":43,"v":-2.75},{"s":14,"g":46,"v":-2.73},{"s":14,"g":49,"v":-3.08},{"s":14,"g":52,"v":-3.06},{"s":14,"g":55,"v":-3.22},{"s":14,"g":58,"v":-3.16},{"s":14,"g":61,"v":-3.53},{"s":14,"g":64,"v":-3.41},{"s":14,"g":67,"v":-3.56},{"s":14,"g":70,"v":-3.74},
{"s":15,"g":0,"v":0.35},{"s":15,"g":1,"v":-0.44},{"s":15,"g":2,"v":-0.57},{"s":15,"g":4,"v":-1.08},{"s":15,"g":7,"v":-1.19},{"s":15,"g":10,"v":-1.44},{"s":15,"g":13,"v":-1.51},{"s":15,"g":16,"v":-1.94},{"s":15,"g":19,"v":-1.96},{"s":15,"g":22,"v":-2.25},{"s":15,"g":25,"v":-2.5},{"s":15,"g":28,"v":-2.53},{"s":15,"g":31,"v":-2.97},{"s":15,"g":34,"v":-2.95},{"s":15,"g":37,"v":-3.2},{"s":15,"g":40,"v":-3.22},{"s":15,"g":43,"v":-3.59},{"s":15,"g":46,"v":-3.63},{"s":15,"g":49,"v":-3.88},{"s":15,"g":52,"v":-3.83},{"s":15,"g":55,"v":-4.17},{"s":15,"g":58,"v":-4.09},{"s":15,"g":61,"v":-4.31},{"s":15,"g":64,"v":-4.5},{"s":15,"g":67,"v":-4.44},{"s":15,"g":70,"v":-4.76},
{"s":16,"g":0,"v":0.35},{"s":16,"g":1,"v":-0.4},{"s":16,"g":2,"v":-0.53},{"s":16,"g":4,"v":-0.86},{"s":16,"g":7,"v":-0.91},{"s":16,"g":10,"v":-1.28},{"s":16,"g":13,"v":-1.28},{"s":16,"g":16,"v":-1.55},{"s":16,"g":19,"v":-1.83},{"s":16,"g":22,"v":-1.85},{"s":16,"g":25,"v":-2.22},{"s":16,"g":28,"v":-2.25},{"s":16,"g":31,"v":-2.53},{"s":16,"g":34,"v":-2.53},{"s":16,"g":37,"v":-2.9},{"s":16,"g":40,"v":-2.93},{"s":16,"g":43,"v":-3.16},{"s":16,"g":46,"v":-3.16},{"s":16,"g":49,"v":-3.53},{"s":16,"g":52,"v":-3.43},{"s":16,"g":55,"v":-3.6},{"s":16,"g":58,"v":-3.78},{"s":16,"g":61,"v":-3.75},{"s":16,"g":64,"v":-4.07},{"s":16,"g":67,"v":-4.0},{"s":16,"g":70,"v":-4.18},
{"s":17,"g":0,"v":0.35},{"s":17,"g":1,"v":-0.32},{"s":17,"g":2,"v":-0.41},{"s":17,"g":4,"v":-0.87},{"s":17,"g":7,"v":-0.86},{"s":17,"g":10,"v":-1.07},{"s":17,"g":13,"v":-1.35},{"s":17,"g":16,"v":-1.36},{"s":17,"g":19,"v":-1.77},{"s":17,"g":22,"v":-1.8},{"s":17,"g":25,"v":-2.02},{"s":17,"g":28,"v":-2.07},{"s":17,"g":31,"v":-2.48},{"s":17,"g":34,"v":-2.51},{"s":17,"g":37,"v":-2.73},{"s":17,"g":40,"v":-2.73},{"s":17,"g":43,"v":-3.1},{"s":17,"g":46,"v":-3.04},{"s":17,"g":49,"v":-3.26},{"s":17,"g":52,"v":-3.44},{"s":17,"g":55,"v":-3.35},{"s":17,"g":58,"v":-3.66},{"s":17,"g":61,"v":-3.64},{"s":17,"g":64,"v":-3.82},{"s":17,"g":67,"v":-3.76},{"s":17,"g":70,"v":-4.08},
{"s":18,"g":0,"v":0.35},{"s":18,"g":1,"v":-0.47},{"s":18,"g":2,"v":-0.53},{"s":18,"g":4,"v":-0.86},{"s":18,"g":7,"v":-1.15},{"s":18,"g":10,"v":-1.13},{"s":18,"g":13,"v":-1.55},{"s":18,"g":16,"v":-1.59},{"s":18,"g":19,"v":-1.88},{"s":18,"g":22,"v":-1.93},{"s":18,"g":25,"v":-2.31},{"s":18,"g":28,"v":-2.39},{"s":18,"g":31,"v":-2.68},{"s":18,"g":34,"v":-2.68},{"s":18,"g":37,"v":-3.06},{"s":18,"g":40,"v":-3.01},{"s":18,"g":43,"v":-3.23},{"s":18,"g":46,"v":-3.47},{"s":18,"g":49,"v":-3.44},{"s":18,"g":52,"v":-3.76},{"s":18,"g":55,"v":-3.7},{"s":18,"g":58,"v":-3.89},{"s":18,"g":61,"v":-3.89},{"s":18,"g":64,"v":-4.21},{"s":18,"g":67,"v":-4.2},{"s":18,"g":70,"v":-4.38},
{"s":19,"g":0,"v":0.35},{"s":19,"g":1,"v":-0.2},{"s":19,"g":2,"v":-0.45},{"s":19,"g":4,"v":-0.55},{"s":19,"g":7,"v":-0.45},{"s":19,"g":10,"v":-0.4},{"s":19,"g":13,"v":-0.55},{"s":19,"g":16,"v":-0.75},{"s":19,"g":19,"v":-0.95},{"s":19,"g":22,"v":-1.05},{"s":19,"g":25,"v":-1.25},{"s":19,"g":28,"v":-1.75},{"s":19,"g":31,"v":-2.15},{"s":19,"g":34,"v":-2.45},{"s":19,"g":37,"v":-2.55},{"s":19,"g":40,"v":-2.8},{"s":19,"g":43,"v":-2.95},{"s":19,"g":46,"v":-3.15},{"s":19,"g":49,"v":-3.25},{"s":19,"g":52,"v":-3.45},{"s":19,"g":55,"v":-3.5},{"s":19,"g":58,"v":-3.65},{"s":19,"g":61,"v":-3.75},{"s":19,"g":64,"v":-3.9},{"s":19,"g":67,"v":-3.95},{"s":19,"g":70,"v":-4.05},
{"s":20,"g":0,"v":0.35},{"s":20,"g":1,"v":-0.25},{"s":20,"g":2,"v":-0.5},{"s":20,"g":4,"v":-0.75},{"s":20,"g":7,"v":-0.95},{"s":20,"g":10,"v":-1.1},{"s":20,"g":13,"v":-1.3},{"s":20,"g":16,"v":-1.45},{"s":20,"g":19,"v":-1.7},{"s":20,"g":22,"v":-1.85},{"s":20,"g":25,"v":-2.0},{"s":20,"g":28,"v":-2.2},{"s":20,"g":31,"v":-2.35},{"s":20,"g":34,"v":-2.45},{"s":20,"g":37,"v":-2.6},{"s":20,"g":40,"v":-2.65},{"s":20,"g":43,"v":-2.8},{"s":20,"g":46,"v":-2.75},{"s":20,"g":49,"v":-2.6},{"s":20,"g":52,"v":-2.85},{"s":20,"g":55,"v":-2.8},{"s":20,"g":58,"v":-3.0},{"s":20,"g":61,"v":-3.05},{"s":20,"g":64,"v":-2.95},{"s":20,"g":67,"v":-3.0},{"s":20,"g":70,"v":-3.3},
{"s":21,"g":0,"v":0.35},{"s":21,"g":1,"v":-0.45},{"s":21,"g":2,"v":-0.75},{"s":21,"g":4,"v":-1.0},{"s":21,"g":7,"v":-1.25},{"s":21,"g":10,"v":-1.3},{"s":21,"g":13,"v":-1.55},{"s":21,"g":16,"v":-1.8},{"s":21,"g":19,"v":-2.0},{"s":21,"g":22,"v":-2.2},{"s":21,"g":25,"v":-2.35},{"s":21,"g":28,"v":-2.6},{"s":21,"g":31,"v":-2.75},{"s":21,"g":34,"v":-2.95},{"s":21,"g":37,"v":-3.1},{"s":21,"g":40,"v":-3.3},{"s":21,"g":43,"v":-3.45},{"s":21,"g":46,"v":-3.6},{"s":21,"g":49,"v":-3.75},{"s":21,"g":52,"v":-3.9},{"s":21,"g":55,"v":-4.05},{"s":21,"g":58,"v":-4.2},{"s":21,"g":61,"v":-4.4},{"s":21,"g":64,"v":-4.6},{"s":21,"g":67,"v":-4.75},{"s":21,"g":70,"v":-4.95},
{"s":22,"g":0,"v":0.35},{"s":22,"g":1,"v":-0.28},{"s":22,"g":2,"v":-0.52},{"s":22,"g":4,"v":-0.72},{"s":22,"g":7,"v":-0.98},{"s":22,"g":10,"v":-1.05},{"s":22,"g":13,"v":-1.22},{"s":22,"g":16,"v":-1.4},{"s":22,"g":19,"v":-1.62},{"s":22,"g":22,"v":-1.72},{"s":22,"g":25,"v":-1.92},{"s":22,"g":28,"v":-2.05},{"s":22,"g":31,"v":-2.22},{"s":22,"g":34,"v":-2.38},{"s":22,"g":37,"v":-2.46},{"s":22,"g":40,"v":-2.62},{"s":22,"g":43,"v":-2.7},{"s":22,"g":46,"v":-2.9},{"s":22,"g":49,"v":-2.98},{"s":22,"g":52,"v":-3.1},{"s":22,"g":55,"v":-3.2},{"s":22,"g":58,"v":-3.3},{"s":22,"g":61,"v":-3.35},{"s":22,"g":64,"v":-3.5},{"s":22,"g":67,"v":-3.45},{"s":22,"g":70,"v":-3.6},
{"s":23,"g":0,"v":0.35},{"s":23,"g":1,"v":-0.5},{"s":23,"g":2,"v":-0.85},{"s":23,"g":4,"v":-1.0},{"s":23,"g":7,"v":-1.4},{"s":23,"g":10,"v":-1.38},{"s":23,"g":13,"v":-1.75},{"s":23,"g":16,"v":-1.8},{"s":23,"g":19,"v":-2.15},{"s":23,"g":22,"v":-2.25},{"s":23,"g":25,"v":-2.5},{"s":23,"g":28,"v":-2.62},{"s":23,"g":31,"v":-2.9},{"s":23,"g":34,"v":-3.0},{"s":23,"g":37,"v":-3.3},{"s":23,"g":40,"v":-3.28},{"s":23,"g":43,"v":-3.6},{"s":23,"g":46,"v":-3.62},{"s":23,"g":49,"v":-3.85},{"s":23,"g":52,"v":-3.9},{"s":23,"g":55,"v":-4.1},{"s":23,"g":58,"v":-4.12},{"s":23,"g":61,"v":-4.35},{"s":23,"g":64,"v":-4.4},{"s":23,"g":67,"v":-4.55},{"s":23,"g":70,"v":-4.52},
{"s":24,"g":0,"v":0.35},{"s":24,"g":1,"v":-0.15},{"s":24,"g":2,"v":-0.4},{"s":24,"g":4,"v":-0.7},{"s":24,"g":7,"v":-0.8},{"s":24,"g":10,"v":-1.05},{"s":24,"g":13,"v":-1.1},{"s":24,"g":16,"v":-1.4},{"s":24,"g":19,"v":-1.45},{"s":24,"g":22,"v":-1.75},{"s":24,"g":25,"v":-1.8},{"s":24,"g":28,"v":-2.1},{"s":24,"g":31,"v":-2.15},{"s":24,"g":34,"v":-2.4},{"s":24,"g":37,"v":-2.5},{"s":24,"g":40,"v":-2.7},{"s":24,"g":43,"v":-2.8},{"s":24,"g":46,"v":-3.0},{"s":24,"g":49,"v":-3.05},{"s":24,"g":52,"v":-3.25},{"s":24,"g":55,"v":-3.3},{"s":24,"g":58,"v":-3.5},{"s":24,"g":61,"v":-3.55},{"s":24,"g":64,"v":-3.7},{"s":24,"g":67,"v":-3.8},{"s":24,"g":70,"v":-3.9},
{"s":25,"g":0,"v":0.35},{"s":25,"g":1,"v":-0.3},{"s":25,"g":2,"v":-0.62},{"s":25,"g":4,"v":-0.78},{"s":25,"g":7,"v":-1.1},{"s":25,"g":10,"v":-1.08},{"s":25,"g":13,"v":-1.42},{"s":25,"g":16,"v":-1.5},{"s":25,"g":19,"v":-1.82},{"s":25,"g":22,"v":-1.9},{"s":25,"g":25,"v":-2.18},{"s":25,"g":28,"v":-2.25},{"s":25,"g":31,"v":-2.55},{"s":25,"g":34,"v":-2.6},{"s":25,"g":37,"v":-2.88},{"s":25,"g":40,"v":-2.9},{"s":25,"g":43,"v":-3.2},{"s":25,"g":46,"v":-3.22},{"s":25,"g":49,"v":-3.5},{"s":25,"g":52,"v":-3.5},{"s":25,"g":55,"v":-3.72},{"s":25,"g":58,"v":-3.75},{"s":25,"g":61,"v":-3.98},{"s":25,"g":64,"v":-4.0},{"s":25,"g":67,"v":-4.2},{"s":25,"g":70,"v":-4.15},
{"s":26,"g":0,"v":0.35},{"s":26,"g":1,"v":-0.38},{"s":26,"g":2,"v":-0.6},{"s":26,"g":4,"v":-0.95},{"s":26,"g":7,"v":-1.05},{"s":26,"g":10,"v":-1.35},{"s":26,"g":13,"v":-1.4},{"s":26,"g":16,"v":-1.72},{"s":26,"g":19,"v":-1.78},{"s":26,"g":22,"v":-2.1},{"s":26,"g":25,"v":-2.12},{"s":26,"g":28,"v":-2.45},{"s":26,"g":31,"v":-2.5},{"s":26,"g":34,"v":-2.8},{"s":26,"g":37,"v":-2.82},{"s":26,"g":40,"v":-3.12},{"s":26,"g":43,"v":-3.15},{"s":26,"g":46,"v":-3.42},{"s":26,"g":49,"v":-3.48},{"s":26,"g":52,"v":-3.7},{"s":26,"g":55,"v":-3.72},{"s":26,"g":58,"v":-3.95},{"s":26,"g":61,"v":-4.0},{"s":26,"g":64,"v":-4.22},{"s":26,"g":67,"v":-4.25},{"s":26,"g":70,"v":-4.42},
{"s":27,"g":0,"v":0.35},{"s":27,"g":1,"v":-0.26},{"s":27,"g":2,"v":-0.55},{"s":27,"g":4,"v":-0.72},{"s":27,"g":7,"v":-0.98},{"s":27,"g":10,"v":-1.02},{"s":27,"g":13,"v":-1.3},{"s":27,"g":16,"v":-1.35},{"s":27,"g":19,"v":-1.62},{"s":27,"g":22,"v":-1.7},{"s":27,"g":25,"v":-1.98},{"s":27,"g":28,"v":-2.05},{"s":27,"g":31,"v":-2.3},{"s":27,"g":34,"v":-2.38},{"s":27,"g":37,"v":-2.62},{"s":27,"g":40,"v":-2.7},{"s":27,"g":43,"v":-2.92},{"s":27,"g":46,"v":-3.0},{"s":27,"g":49,"v":-3.2},{"s":27,"g":52,"v":-3.28},{"s":27,"g":55,"v":-3.45},{"s":27,"g":58,"v":-3.52},{"s":27,"g":61,"v":-3.7},{"s":27,"g":64,"v":-3.78},{"s":27,"g":67,"v":-3.9},{"s":27,"g":70,"v":-4.0},
{"s":28,"g":0,"v":0.35},{"s":28,"g":1,"v":-0.33},{"s":28,"g":2,"v":-0.68},{"s":28,"g":4,"v":-0.85},{"s":28,"g":7,"v":-1.1},{"s":28,"g":10,"v":-1.25},{"s":28,"g":13,"v":-1.38},{"s":28,"g":16,"v":-1.62},{"s":28,"g":19,"v":-1.7},{"s":28,"g":22,"v":-1.98},{"s":28,"g":25,"v":-2.05},{"s":28,"g":28,"v":-2.32},{"s":28,"g":31,"v":-2.35},{"s":28,"g":34,"v":-2.65},{"s":28,"g":37,"v":-2.72},{"s":28,"g":40,"v":-2.98},{"s":28,"g":43,"v":-3.05},{"s":28,"g":46,"v":-3.28},{"s":28,"g":49,"v":-3.35},{"s":28,"g":52,"v":-3.58},{"s":28,"g":55,"v":-3.62},{"s":28,"g":58,"v":-3.85},{"s":28,"g":61,"v":-3.9},{"s":28,"g":64,"v":-4.12},{"s":28,"g":67,"v":-4.12},{"s":28,"g":70,"v":-4.3}
]
},
"columns": 3,
"spacing": {"row": 117, "column": 78},
"bounds": "flush",
"resolve": {"scale": {"color": "independent"}},
"concat": [
{
"width": 216, "height": 115,
"title": "α₁ Media Impact",
"data": {"name": "a1"},
"mark": {"type": "line", "strokeWidth": 1, "clip": true},
"encoding": {
"x": {"field": "g", "type": "quantitative", "scale": {"domain": [-2.8, 72.8], "nice": false, "zero": false}, "axis": {"values": [0,10,20,30,40,50,60,70], "title": "Generation"}},
"y": {"field": "v", "type": "quantitative", "scale": {"domain": [-0.239, 0.063], "nice": false, "zero": false}, "axis": {"title": null, "values": [0.05,0,-0.05,-0.1,-0.15,-0.2], "format": ".2f", "labelExpr": "round(datum.value*20) % 2 == 0 ? replace(datum.label, '−', '-') : ''"}},
"color": {"field": "s", "type": "nominal", "legend": null, "scale": {"domain": [1,2,3,4,5,6,7,8,9,10,11,12,13,14,15,16,17,18,19,20,21,22,23,24,25,26], "range": ["#ff4f9a","#e0409a","#a8d55a","#ff9a3c","#f0e050","#7a5ccc","#a55cc6","#4cc3ea","#3f5fc8","#66c26a","#45c4b0","#4a90e2","#e0409a","#7a5ccc","#ff9a3c","#3f5fc8","#ff6b6b","#66c26a","#a55cc6","#4cc3ea","#4a90e2","#a8d55a","#45c4b0","#ff4f9a","#f0e050","#ff6b6b"]}}
}
},
{
"width": 216, "height": 115,
"title": "α₂ Social Impact",
"data": {"name": "a2"},
"mark": {"type": "line", "strokeWidth": 1, "clip": true},
"encoding": {
"x": {"field": "g", "type": "quantitative", "scale": {"domain": [-2.8, 72.8], "nice": false, "zero": false}, "axis": {"values": [0,10,20,30,40,50,60,70], "title": "Generation"}},
"y": {"field": "v", "type": "quantitative", "scale": {"domain": [0.0053, 0.1293], "nice": false, "zero": false}, "axis": {"title": null, "values": [0.02,0.04,0.06,0.08,0.1,0.12], "format": ".2f", "labelExpr": "round(datum.value*50) % 2 == 1 ? datum.label : ''"}},
"color": {"field": "s", "type": "nominal", "legend": null, "scale": {"domain": [1,2,3,4,5,6,7,8,9,10,11,12,13,14,15,16,17,18,19,20,21,22,23,24,25,26], "range": ["#f0e050","#4cc3ea","#66c26a","#e0409a","#a8d55a","#ff4f9a","#4a90e2","#ff9a3c","#45c4b0","#a55cc6","#ff6b6b","#3f5fc8","#7a5ccc","#ff4f9a","#66c26a","#4cc3ea","#e0409a","#ff9a3c","#4a90e2","#a55cc6","#45c4b0","#7a5ccc","#3f5fc8","#ff6b6b","#a8d55a","#66c26a"]}}
}
},
{
"width": 216, "height": 115,
"title": "β₃ Relative Distance",
"data": {"name": "b3"},
"mark": {"type": "line", "strokeWidth": 1, "clip": true},
"encoding": {
"x": {"field": "g", "type": "quantitative", "scale": {"domain": [-2.8, 72.8], "nice": false, "zero": false}, "axis": {"values": [0,10,20,30,40,50,60,70], "title": "Generation"}},
"y": {"field": "v", "type": "quantitative", "scale": {"domain": [0.65, 6.72], "nice": false, "zero": false}, "axis": {"title": null, "values": [1,2,3,4,5,6], "format": "d"}},
"color": {"field": "s", "type": "nominal", "legend": null, "scale": {"domain": [1,2,3,4,5,6,7,8,9,10,11,12,13,14,15,16,17,18,19,20,21,22,23,24,25,26,27,28], "range": ["#ff9a3c","#7a5ccc","#e0409a","#66c26a","#3f5fc8","#4cc3ea","#a55cc6","#ff9a3c","#a55cc6","#4cc3ea","#ff4f9a","#66c26a","#f0e050","#7a5ccc","#4a90e2","#e0409a","#ff6b6b","#a8d55a","#45c4b0","#a55cc6","#ff4f9a","#f0e050","#4a90e2","#a8d55a","#ff9a3c","#4cc3ea","#a8d55a","#7a5ccc"]}}
}
},
{
"width": 216, "height": 115,
"title": "β₂ (Media Reliance)",
"data": {"name": "b2"},
"mark": {"type": "line", "strokeWidth": 1, "clip": true},
"encoding": {
"x": {"field": "g", "type": "quantitative", "scale": {"domain": [-2.8, 72.8], "nice": false, "zero": false}, "axis": {"values": [0,10,20,30,40,50,60,70], "title": "Generation"}},
"y": {"field": "v", "type": "quantitative", "scale": {"domain": [-0.035, 0.425], "nice": false, "zero": false}, "axis": {"title": null, "values": [0,0.1,0.2,0.3,0.4], "format": ".1f"}},
"color": {"field": "s", "type": "nominal", "legend": null, "scale": {"domain": [1,2,3,4,5,6,7,8,9,10,11,12,13,14,15,16,17,18,19,20,21,22,23,24,25,26], "range": ["#a8d55a","#f0e050","#a55cc6","#7a5ccc","#66c26a","#4a90e2","#e0409a","#ff9a3c","#ff4f9a","#45c4b0","#ff6b6b","#3f5fc8","#4cc3ea","#a55cc6","#66c26a","#4a90e2","#f0e050","#7a5ccc","#4cc3ea","#45c4b0","#e0409a","#ff9a3c","#a8d55a","#f0e050","#ff6b6b","#ff4f9a"]}}
}
},
{
"width": 216, "height": 115,
"title": "β₁ Certainty",
"data": {"name": "b1"},
"mark": {"type": "line", "strokeWidth": 1, "clip": true},
"encoding": {
"x": {"field": "g", "type": "quantitative", "scale": {"domain": [-2.8, 72.8], "nice": false, "zero": false}, "axis": {"values": [0,10,20,30,40,50,60,70], "title": "Generation"}},
"y": {"field": "v", "type": "quantitative", "scale": {"domain": [-0.097, 0.018], "nice": false, "zero": false}, "axis": {"title": null, "values": [0,-0.02,-0.04,-0.06,-0.08], "format": ".2f", "labelExpr": "round(datum.value*50) % 2 == 0 ? replace(datum.label, '−', '-') : ''"}},
"color": {"field": "s", "type": "nominal", "legend": null, "scale": {"domain": [1,2,3,4,5,6,7,8,9,10,11,12,13,14,15,16,17,18,19,20,21,22,23,24,25,26], "range": ["#66c26a","#a8d55a","#e0409a","#4cc3ea","#7a5ccc","#ff4f9a","#4a90e2","#a55cc6","#ff9a3c","#3f5fc8","#45c4b0","#ff6b6b","#f0e050","#7a5ccc","#e0409a","#66c26a","#4a90e2","#a55cc6","#a8d55a","#ff4f9a","#ff9a3c","#3f5fc8","#ff6b6b","#45c4b0","#4cc3ea","#f0e050"]}}
}
},
{
"width": 216, "height": 115,
"title": "Convergence",
"data": {"name": "cv"},
"mark": {"type": "line", "strokeWidth": 1, "clip": true},
"encoding": {
"x": {"field": "g", "type": "quantitative", "scale": {"domain": [-2.8, 72.8], "nice": false, "zero": false}, "axis": {"values": [0,10,20,30,40,50,60,70], "title": "Generation"}},
"y": {"field": "v", "type": "quantitative", "scale": {"domain": [-5.21, 0.55], "nice": false, "zero": false}, "axis": {"title": null, "values": [0,-1,-2,-3,-4,-5], "format": "d", "labelExpr": "replace(datum.label, '−', '-')"}},
"color": {"field": "s", "type": "nominal", "legend": null, "scale": {"domain": [1,2,3,4,5,6,7,8,9,10,11,12,13,14,15,16,17,18,19,20,21,22,23,24,25,26,27,28], "range": ["#4cc3ea","#e0409a","#66c26a","#4a90e2","#a8d55a","#ff6b6b","#3f5fc8","#45c4b0","#ff4f9a","#ff9a3c","#a55cc6","#7a5ccc","#4cc3ea","#e0409a","#4a90e2","#ff4f9a","#66c26a","#3f5fc8","#f0e050","#7a5ccc","#ff4f9a","#4a90e2","#e0409a","#7a5ccc","#ff4f9a","#3f5fc8","#d040c0","#8855cc"]}}
}
}
]
}
